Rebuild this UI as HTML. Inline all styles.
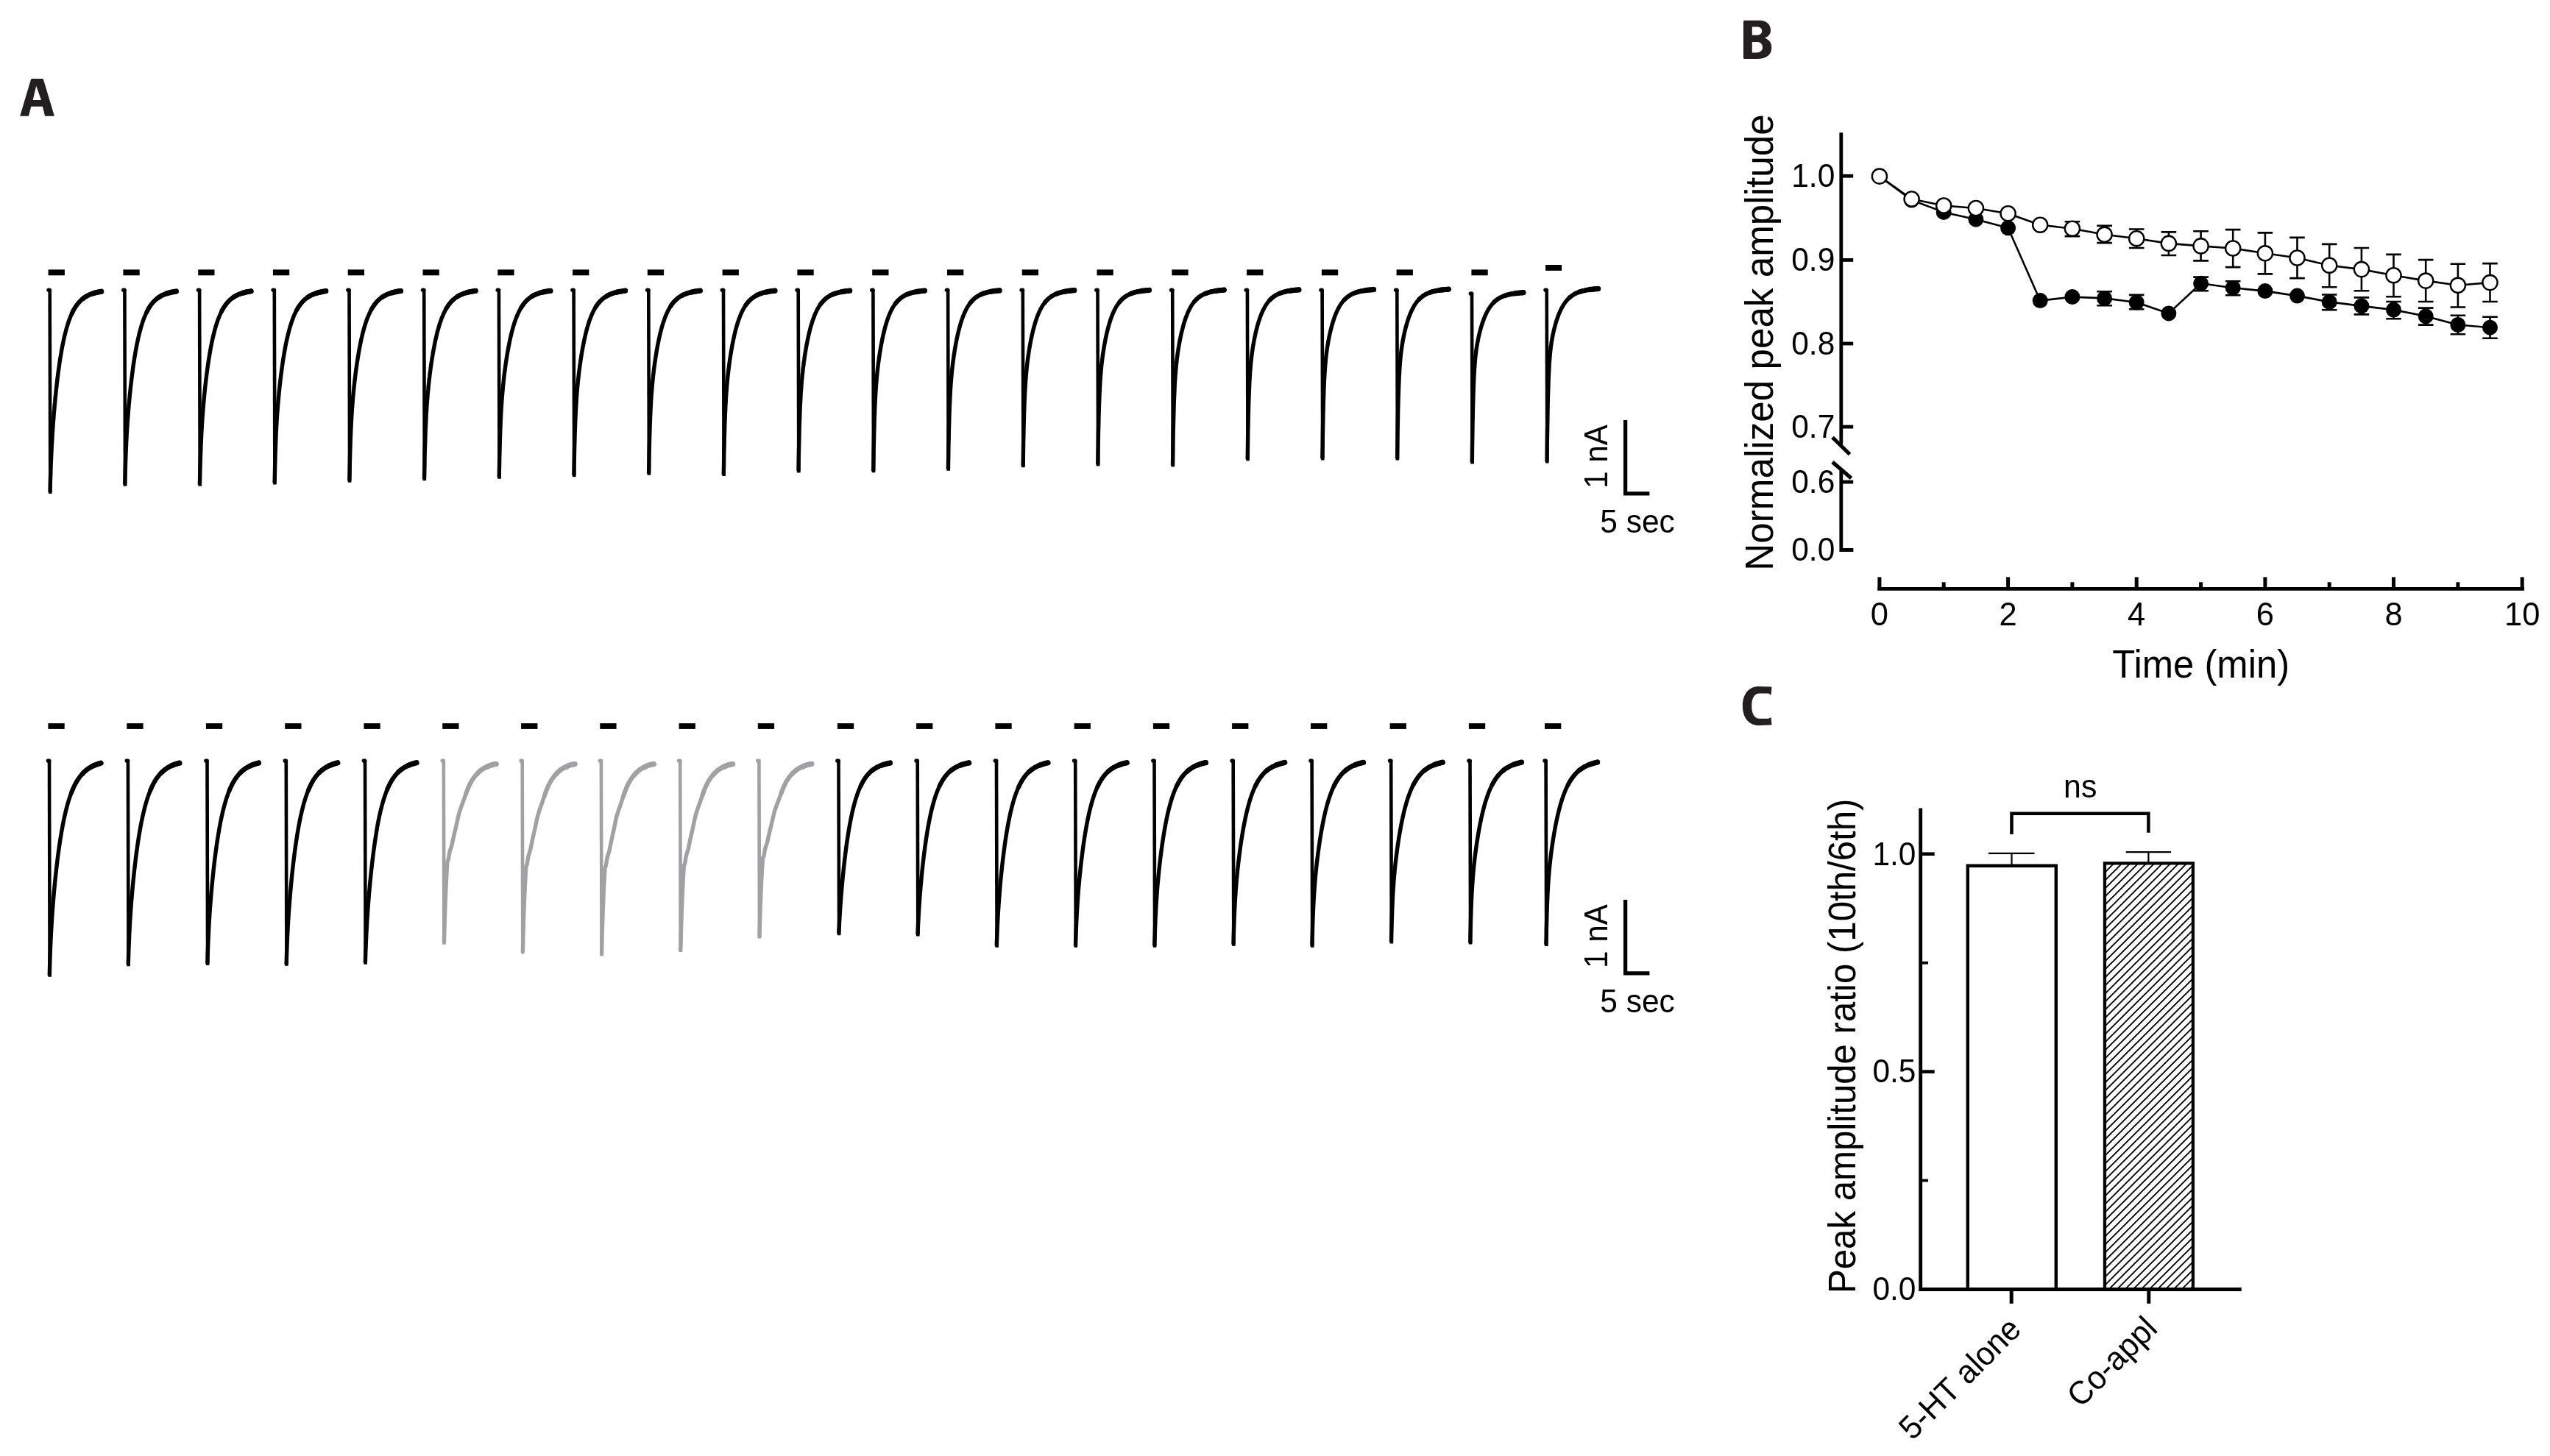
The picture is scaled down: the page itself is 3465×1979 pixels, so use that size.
<!DOCTYPE html>
<html><head><meta charset="utf-8"><style>html,body{margin:0;padding:0;background:#fff;overflow:hidden}svg{display:block;will-change:transform}</style></head>
<body><svg width="3465" height="1979" viewBox="0 0 3465 1979">
<rect width="3465" height="1979" fill="#fff"/>
<path fill="#231f20" fill-rule="evenodd" d="M27.2,157.7 L42.0,108 L43.1,106.9 L57.9,106.9 L59,108 L73.9,157.7 L61.1,157.7 L57.9,144.7 L42.3,144.7 L38.9,157.7 Z M49.2,116.7 L44.7,136 L56.0,136 Z"/>
<path fill="#231f20" fill-rule="evenodd" d="M2369,29 Q2369,27.8 2372,27.8 L2391,27.8 C2400,27.8 2406,33 2406,41.2 C2406,46 2403,50 2397.5,51.6 C2403.5,53.5 2407.3,58 2407.3,65 C2407.3,74.5 2400,80 2388,80 L2372,80 Q2369,80 2369,78.5 Z M2380.8,36.6 L2380.8,47.8 L2387,47.8 C2391.5,47.8 2394.2,45.5 2394.2,42 C2394.2,38.5 2391.5,36.6 2387,36.6 Z M2380.8,56.9 L2380.8,71.4 L2387,71.4 C2392,71.4 2395,68.8 2395,64.2 C2395,59.5 2392,56.9 2387,56.9 Z"/>
<path fill="#231f20" d="M2407.5,934 L2406.8,933.4 L2390,932.9 C2376,932.9 2367.9,943.5 2367.9,959.5 C2367.9,976 2377,986 2390,986 L2407.5,985.2 L2406.5,975 L2403,976.8 L2390.5,976.8 C2384,976.8 2380.2,970 2380.2,959.5 C2380.2,949 2384,942.6 2390.5,942.6 L2403,942.6 L2406.5,944.8 Z"/>
<path d="M67.7,393.7 L68.3,671.1" stroke="#000000" stroke-width="4.6" fill="none"/><ellipse cx="66.7" cy="394.3" rx="3.4" ry="2.8" fill="#000000"/><path d="M68,669.1 L68.2,659.6 L68.5,651 L68.8,643.2 L69,636 L69.2,629.4 L69.5,623.3 L69.8,617.6 L70,612.3 L70.2,607.4 L70.5,602.7 L70.8,598.2 L71,594 L71.2,589.9 L71.5,586 L71.8,582.3 L72.2,575.3 L72.8,568.7 L73.2,562.4 L73.8,556.5 L74.2,550.9 L74.8,545.5 L75.2,540.3 L75.8,535.3 L76.2,530.5 L76.8,525.9 L77.2,521.5 L77.8,517.2 L78.2,513 L78.8,509 L79.2,505.2 L79.8,501.5 L81.2,491 L82.8,481.6 L84.2,473.2 L85.8,465.5 L87.2,458.6 L88.8,452.4 L90.2,446.8 L91.8,441.7 L93.2,437.1 L94.8,433 L96.2,429.3 L97.8,425.9 L99.2,422.8 L100.8,420.1 L102.2,417.6 L103.8,415.4 L105.2,413.4 L106.8,411.5 L108.2,409.9 L109.8,408.4 L111.2,407 L112.8,405.8 L114.2,404.7 L115.8,403.7 L117.2,402.8 L118.8,402 L120.2,401.2 L121.8,400.5 L123.2,399.9 L124.8,399.4 L126.2,398.9 L127.8,398.4 L129.2,398 L130.8,397.6 L132.2,397.2 L133.8,396.9 L135.2,396.6 L136.8,396.4 L137.7,396.2" stroke="#000000" stroke-width="5.4" fill="none" stroke-linejoin="round" stroke-linecap="butt"/><path d="M97.8,425.9 L99.2,422.8 L100.8,420.1 L102.2,417.6 L103.8,415.4 L105.2,413.4 L106.8,411.5 L108.2,409.9 L109.8,408.4 L111.2,407 L112.8,405.8 L114.2,404.7 L115.8,403.7 L117.2,402.8 L118.8,402 L120.2,401.2 L121.8,400.5 L123.2,399.9 L124.8,399.4 L126.2,398.9 L127.8,398.4 L129.2,398 L130.8,397.6 L132.2,397.2 L133.8,396.9 L135.2,396.6 L136.8,396.4 L137.7,396.2" stroke="#000000" stroke-width="6.0" fill="none" stroke-linejoin="round" stroke-linecap="round"/><path d="M112.8,405.8 L114.2,404.7 L115.8,403.7 L117.2,402.8 L118.8,402 L120.2,401.2 L121.8,400.5 L123.2,399.9 L124.8,399.4 L126.2,398.9 L127.8,398.4 L129.2,398 L130.8,397.6 L132.2,397.2 L133.8,396.9 L135.2,396.6 L136.8,396.4 L137.7,396.2" stroke="#000000" stroke-width="6.6" fill="none" stroke-linejoin="round" stroke-linecap="round"/><path d="M126.2,398.9 L127.8,398.4 L129.2,398 L130.8,397.6 L132.2,397.2 L133.8,396.9 L135.2,396.6 L136.8,396.4 L137.7,396.2" stroke="#000000" stroke-width="7.2" fill="none" stroke-linejoin="round" stroke-linecap="round"/>
<rect x="65.6" y="366.4" width="22.3" height="7.9" fill="#000"/>
<path d="M169.4,393.7 L170,660.7" stroke="#000000" stroke-width="4.6" fill="none"/><ellipse cx="168.4" cy="394.3" rx="3.4" ry="2.8" fill="#000000"/><path d="M169.7,658.7 L170,648.6 L170.2,639.6 L170.5,631.4 L170.7,624 L171,617.2 L171.2,611 L171.5,605.3 L171.7,600 L172,595 L172.2,590.4 L172.5,586 L172.7,581.9 L173,577.9 L173.2,574.2 L173.5,570.6 L174,563.8 L174.5,557.5 L175,551.6 L175.5,546 L176,540.7 L176.5,535.7 L177,530.8 L177.5,526.2 L178,521.7 L178.5,517.4 L179,513.2 L179.5,509.2 L180,505.3 L180.5,501.6 L181,498 L181.5,494.5 L183,484.8 L184.5,476 L186,468.1 L187.5,461 L189,454.5 L190.5,448.7 L192,443.4 L193.5,438.7 L195,434.4 L196.5,430.5 L198,427 L199.5,423.9 L201,421 L202.4,418.5 L203.9,416.1 L205.4,414 L206.9,412.1 L208.4,410.4 L209.9,408.9 L211.4,407.5 L212.9,406.2 L214.4,405.1 L215.9,404 L217.4,403.1 L218.9,402.2 L220.4,401.4 L221.9,400.7 L223.4,400.1 L224.9,399.5 L226.4,399 L227.9,398.5 L229.4,398.1 L230.9,397.7 L232.4,397.3 L233.9,397 L235.4,396.7 L236.9,396.4 L238.4,396.2 L239.4,396" stroke="#000000" stroke-width="5.4" fill="none" stroke-linejoin="round" stroke-linecap="butt"/><path d="M199.5,423.9 L201,421 L202.4,418.5 L203.9,416.1 L205.4,414 L206.9,412.1 L208.4,410.4 L209.9,408.9 L211.4,407.5 L212.9,406.2 L214.4,405.1 L215.9,404 L217.4,403.1 L218.9,402.2 L220.4,401.4 L221.9,400.7 L223.4,400.1 L224.9,399.5 L226.4,399 L227.9,398.5 L229.4,398.1 L230.9,397.7 L232.4,397.3 L233.9,397 L235.4,396.7 L236.9,396.4 L238.4,396.2 L239.4,396" stroke="#000000" stroke-width="6.0" fill="none" stroke-linejoin="round" stroke-linecap="round"/><path d="M214.4,405.1 L215.9,404 L217.4,403.1 L218.9,402.2 L220.4,401.4 L221.9,400.7 L223.4,400.1 L224.9,399.5 L226.4,399 L227.9,398.5 L229.4,398.1 L230.9,397.7 L232.4,397.3 L233.9,397 L235.4,396.7 L236.9,396.4 L238.4,396.2 L239.4,396" stroke="#000000" stroke-width="6.6" fill="none" stroke-linejoin="round" stroke-linecap="round"/><path d="M227.9,398.5 L229.4,398.1 L230.9,397.7 L232.4,397.3 L233.9,397 L235.4,396.7 L236.9,396.4 L238.4,396.2 L239.4,396" stroke="#000000" stroke-width="7.2" fill="none" stroke-linejoin="round" stroke-linecap="round"/>
<rect x="167.4" y="366.4" width="22.3" height="7.9" fill="#000"/>
<path d="M271.1,393.7 L271.7,660.7" stroke="#000000" stroke-width="4.6" fill="none"/><ellipse cx="270.1" cy="394.3" rx="3.4" ry="2.8" fill="#000000"/><path d="M271.4,658.7 L271.7,647.7 L271.9,637.9 L272.2,629.1 L272.4,621.1 L272.7,614 L272.9,607.4 L273.2,601.4 L273.4,595.9 L273.7,590.7 L273.9,585.9 L274.2,581.5 L274.4,577.3 L274.7,573.3 L274.9,569.5 L275.2,565.9 L275.7,559.2 L276.2,553 L276.7,547.2 L277.2,541.7 L277.7,536.5 L278.2,531.5 L278.7,526.8 L279.2,522.3 L279.7,517.9 L280.2,513.7 L280.7,509.7 L281.2,505.8 L281.7,502.1 L282.2,498.5 L282.7,495 L283.2,491.6 L284.7,482.2 L286.2,473.6 L287.7,466 L289.2,459 L290.7,452.8 L292.2,447.1 L293.7,442 L295.2,437.4 L296.7,433.2 L298.2,429.5 L299.7,426.1 L301.2,423 L302.7,420.2 L304.2,417.7 L305.7,415.5 L307.2,413.4 L308.7,411.6 L310.2,409.9 L311.7,408.4 L313.2,407 L314.7,405.8 L316.2,404.7 L317.7,403.7 L319.2,402.7 L320.7,401.9 L322.2,401.1 L323.7,400.5 L325.2,399.8 L326.7,399.3 L328.2,398.8 L329.7,398.3 L331.2,397.9 L332.7,397.5 L334.2,397.1 L335.7,396.8 L337.2,396.5 L338.7,396.2 L340.2,396 L341.1,395.8" stroke="#000000" stroke-width="5.4" fill="none" stroke-linejoin="round" stroke-linecap="butt"/><path d="M301.2,423 L302.7,420.2 L304.2,417.7 L305.7,415.5 L307.2,413.4 L308.7,411.6 L310.2,409.9 L311.7,408.4 L313.2,407 L314.7,405.8 L316.2,404.7 L317.7,403.7 L319.2,402.7 L320.7,401.9 L322.2,401.1 L323.7,400.5 L325.2,399.8 L326.7,399.3 L328.2,398.8 L329.7,398.3 L331.2,397.9 L332.7,397.5 L334.2,397.1 L335.7,396.8 L337.2,396.5 L338.7,396.2 L340.2,396 L341.1,395.8" stroke="#000000" stroke-width="6.0" fill="none" stroke-linejoin="round" stroke-linecap="round"/><path d="M316.2,404.7 L317.7,403.7 L319.2,402.7 L320.7,401.9 L322.2,401.1 L323.7,400.5 L325.2,399.8 L326.7,399.3 L328.2,398.8 L329.7,398.3 L331.2,397.9 L332.7,397.5 L334.2,397.1 L335.7,396.8 L337.2,396.5 L338.7,396.2 L340.2,396 L341.1,395.8" stroke="#000000" stroke-width="6.6" fill="none" stroke-linejoin="round" stroke-linecap="round"/><path d="M329.7,398.3 L331.2,397.9 L332.7,397.5 L334.2,397.1 L335.7,396.8 L337.2,396.5 L338.7,396.2 L340.2,396 L341.1,395.8" stroke="#000000" stroke-width="7.2" fill="none" stroke-linejoin="round" stroke-linecap="round"/>
<rect x="269.2" y="366.4" width="22.3" height="7.9" fill="#000"/>
<path d="M372.8,393.7 L373.4,658.6" stroke="#000000" stroke-width="4.6" fill="none"/><ellipse cx="371.8" cy="394.3" rx="3.4" ry="2.8" fill="#000000"/><path d="M373.1,656.6 L373.4,644.8 L373.6,634.3 L373.9,624.9 L374.1,616.5 L374.4,608.9 L374.6,602.1 L374.9,595.9 L375.1,590.2 L375.4,584.9 L375.6,580 L375.9,575.5 L376.1,571.3 L376.4,567.3 L376.6,563.5 L376.9,559.9 L377.4,553.3 L377.9,547.2 L378.4,541.5 L378.9,536.2 L379.4,531.1 L379.9,526.3 L380.4,521.8 L380.9,517.4 L381.4,513.2 L381.9,509.2 L382.4,505.3 L382.9,501.6 L383.4,498 L383.9,494.5 L384.4,491.1 L384.9,487.9 L386.4,478.8 L387.9,470.6 L389.4,463.3 L390.9,456.6 L392.4,450.6 L393.9,445.1 L395.4,440.2 L396.9,435.8 L398.4,431.8 L399.9,428.1 L401.4,424.9 L402.9,421.9 L404.4,419.2 L405.9,416.8 L407.4,414.7 L408.9,412.7 L410.4,410.9 L411.9,409.3 L413.4,407.8 L414.9,406.5 L416.4,405.3 L417.9,404.2 L419.4,403.2 L420.9,402.3 L422.4,401.5 L423.9,400.8 L425.4,400.1 L426.9,399.5 L428.4,399 L429.9,398.5 L431.4,398 L432.9,397.6 L434.4,397.2 L435.9,396.9 L437.4,396.6 L438.9,396.3 L440.4,396 L441.9,395.8 L442.8,395.7" stroke="#000000" stroke-width="5.4" fill="none" stroke-linejoin="round" stroke-linecap="butt"/><path d="M402.9,421.9 L404.4,419.2 L405.9,416.8 L407.4,414.7 L408.9,412.7 L410.4,410.9 L411.9,409.3 L413.4,407.8 L414.9,406.5 L416.4,405.3 L417.9,404.2 L419.4,403.2 L420.9,402.3 L422.4,401.5 L423.9,400.8 L425.4,400.1 L426.9,399.5 L428.4,399 L429.9,398.5 L431.4,398 L432.9,397.6 L434.4,397.2 L435.9,396.9 L437.4,396.6 L438.9,396.3 L440.4,396 L441.9,395.8 L442.8,395.7" stroke="#000000" stroke-width="6.0" fill="none" stroke-linejoin="round" stroke-linecap="round"/><path d="M417.9,404.2 L419.4,403.2 L420.9,402.3 L422.4,401.5 L423.9,400.8 L425.4,400.1 L426.9,399.5 L428.4,399 L429.9,398.5 L431.4,398 L432.9,397.6 L434.4,397.2 L435.9,396.9 L437.4,396.6 L438.9,396.3 L440.4,396 L441.9,395.8 L442.8,395.7" stroke="#000000" stroke-width="6.6" fill="none" stroke-linejoin="round" stroke-linecap="round"/><path d="M431.4,398 L432.9,397.6 L434.4,397.2 L435.9,396.9 L437.4,396.6 L438.9,396.3 L440.4,396 L441.9,395.8 L442.8,395.7" stroke="#000000" stroke-width="7.2" fill="none" stroke-linejoin="round" stroke-linecap="round"/>
<rect x="370.9" y="366.4" width="22.3" height="7.9" fill="#000"/>
<path d="M474.5,393.7 L475.1,655.7" stroke="#000000" stroke-width="4.6" fill="none"/><ellipse cx="473.5" cy="394.3" rx="3.4" ry="2.8" fill="#000000"/><path d="M474.8,653.7 L475.1,641.1 L475.3,629.9 L475.6,620 L475.8,611.2 L476.1,603.3 L476.3,596.2 L476.6,589.8 L476.8,583.9 L477.1,578.6 L477.3,573.6 L477.6,569 L477.8,564.8 L478.1,560.8 L478.3,557 L478.6,553.5 L479.1,546.9 L479.6,541 L480.1,535.4 L480.6,530.3 L481.1,525.4 L481.6,520.8 L482.1,516.4 L482.6,512.2 L483.1,508.2 L483.6,504.3 L484.1,500.6 L484.6,497 L485.1,493.6 L485.6,490.3 L486.1,487.1 L486.6,484 L488.1,475.3 L489.6,467.4 L491.1,460.4 L492.6,454 L494.1,448.2 L495.6,443 L497.1,438.3 L498.6,434 L500.1,430.2 L501.6,426.7 L503.1,423.6 L504.6,420.7 L506.1,418.2 L507.6,415.9 L509.1,413.8 L510.6,411.9 L512,410.2 L513.5,408.6 L515,407.2 L516.5,405.9 L518,404.8 L519.5,403.7 L521,402.8 L522.5,401.9 L524,401.2 L525.5,400.4 L527,399.8 L528.5,399.2 L530,398.7 L531.5,398.2 L533,397.8 L534.5,397.4 L536,397 L537.5,396.7 L539,396.4 L540.5,396.1 L542,395.8 L543.5,395.6 L544.5,395.5" stroke="#000000" stroke-width="5.4" fill="none" stroke-linejoin="round" stroke-linecap="butt"/><path d="M504.6,420.7 L506.1,418.2 L507.6,415.9 L509.1,413.8 L510.6,411.9 L512,410.2 L513.5,408.6 L515,407.2 L516.5,405.9 L518,404.8 L519.5,403.7 L521,402.8 L522.5,401.9 L524,401.2 L525.5,400.4 L527,399.8 L528.5,399.2 L530,398.7 L531.5,398.2 L533,397.8 L534.5,397.4 L536,397 L537.5,396.7 L539,396.4 L540.5,396.1 L542,395.8 L543.5,395.6 L544.5,395.5" stroke="#000000" stroke-width="6.0" fill="none" stroke-linejoin="round" stroke-linecap="round"/><path d="M519.5,403.7 L521,402.8 L522.5,401.9 L524,401.2 L525.5,400.4 L527,399.8 L528.5,399.2 L530,398.7 L531.5,398.2 L533,397.8 L534.5,397.4 L536,397 L537.5,396.7 L539,396.4 L540.5,396.1 L542,395.8 L543.5,395.6 L544.5,395.5" stroke="#000000" stroke-width="6.6" fill="none" stroke-linejoin="round" stroke-linecap="round"/><path d="M533,397.8 L534.5,397.4 L536,397 L537.5,396.7 L539,396.4 L540.5,396.1 L542,395.8 L543.5,395.6 L544.5,395.5" stroke="#000000" stroke-width="7.2" fill="none" stroke-linejoin="round" stroke-linecap="round"/>
<rect x="472.7" y="366.4" width="22.3" height="7.9" fill="#000"/>
<path d="M576.2,393.7 L576.8,653.2" stroke="#000000" stroke-width="4.6" fill="none"/><ellipse cx="575.2" cy="394.3" rx="3.4" ry="2.8" fill="#000000"/><path d="M576.5,651.2 L576.8,637.8 L577,626 L577.2,615.6 L577.5,606.3 L577.8,598.1 L578,590.7 L578.2,584.1 L578.5,578.1 L578.8,572.6 L579,567.6 L579.2,562.9 L579.5,558.6 L579.8,554.6 L580,550.9 L580.2,547.4 L580.8,540.9 L581.2,535.1 L581.8,529.7 L582.2,524.7 L582.8,520 L583.2,515.5 L583.8,511.3 L584.2,507.3 L584.8,503.4 L585.2,499.7 L585.8,496.2 L586.2,492.7 L586.8,489.4 L587.2,486.2 L587.8,483.2 L588.2,480.2 L589.8,471.9 L591.2,464.4 L592.8,457.6 L594.2,451.5 L595.8,446 L597.2,441 L598.8,436.5 L600.2,432.4 L601.8,428.7 L603.2,425.4 L604.8,422.3 L606.2,419.6 L607.8,417.2 L609.2,414.9 L610.8,412.9 L612.2,411.1 L613.8,409.4 L615.2,407.9 L616.8,406.6 L618.2,405.4 L619.8,404.3 L621.2,403.3 L622.8,402.3 L624.2,401.5 L625.8,400.8 L627.2,400.1 L628.8,399.5 L630.2,398.9 L631.8,398.4 L633.2,397.9 L634.8,397.5 L636.2,397.1 L637.8,396.8 L639.2,396.5 L640.8,396.2 L642.2,395.9 L643.8,395.7 L645.2,395.4 L646.2,395.3" stroke="#000000" stroke-width="5.4" fill="none" stroke-linejoin="round" stroke-linecap="butt"/><path d="M606.2,419.6 L607.8,417.2 L609.2,414.9 L610.8,412.9 L612.2,411.1 L613.8,409.4 L615.2,407.9 L616.8,406.6 L618.2,405.4 L619.8,404.3 L621.2,403.3 L622.8,402.3 L624.2,401.5 L625.8,400.8 L627.2,400.1 L628.8,399.5 L630.2,398.9 L631.8,398.4 L633.2,397.9 L634.8,397.5 L636.2,397.1 L637.8,396.8 L639.2,396.5 L640.8,396.2 L642.2,395.9 L643.8,395.7 L645.2,395.4 L646.2,395.3" stroke="#000000" stroke-width="6.0" fill="none" stroke-linejoin="round" stroke-linecap="round"/><path d="M621.2,403.3 L622.8,402.3 L624.2,401.5 L625.8,400.8 L627.2,400.1 L628.8,399.5 L630.2,398.9 L631.8,398.4 L633.2,397.9 L634.8,397.5 L636.2,397.1 L637.8,396.8 L639.2,396.5 L640.8,396.2 L642.2,395.9 L643.8,395.7 L645.2,395.4 L646.2,395.3" stroke="#000000" stroke-width="6.6" fill="none" stroke-linejoin="round" stroke-linecap="round"/><path d="M634.8,397.5 L636.2,397.1 L637.8,396.8 L639.2,396.5 L640.8,396.2 L642.2,395.9 L643.8,395.7 L645.2,395.4 L646.2,395.3" stroke="#000000" stroke-width="7.2" fill="none" stroke-linejoin="round" stroke-linecap="round"/>
<rect x="574.5" y="366.4" width="22.3" height="7.9" fill="#000"/>
<path d="M677.9,393.7 L678.5,650.7" stroke="#000000" stroke-width="4.6" fill="none"/><ellipse cx="676.9" cy="394.3" rx="3.4" ry="2.8" fill="#000000"/><path d="M678.2,648.7 L678.5,634.9 L678.7,622.8 L679,612.1 L679.2,602.6 L679.5,594.2 L679.7,586.7 L680,579.9 L680.2,573.8 L680.5,568.2 L680.7,563.2 L681,558.5 L681.2,554.2 L681.5,550.2 L681.7,546.5 L682,542.9 L682.5,536.5 L683,530.7 L683.5,525.4 L684,520.4 L684.5,515.8 L685,511.4 L685.5,507.3 L686,503.4 L686.5,499.6 L687,496 L687.5,492.5 L688,489.2 L688.5,485.9 L689,482.8 L689.5,479.8 L690,477 L691.5,468.9 L693,461.6 L694.5,455 L696,449.1 L697.5,443.7 L699,438.9 L700.5,434.6 L702,430.6 L703.5,427.1 L705,423.9 L706.5,421 L708,418.4 L709.5,416 L711,413.9 L712.5,411.9 L714,410.2 L715.5,408.6 L717,407.2 L718.5,405.9 L720,404.8 L721.5,403.7 L723,402.7 L724.5,401.9 L726,401.1 L727.5,400.4 L729,399.8 L730.5,399.2 L732,398.6 L733.5,398.2 L735,397.7 L736.5,397.3 L738,397 L739.5,396.6 L741,396.3 L742.5,396.1 L744,395.8 L745.5,395.6 L747,395.4 L747.9,395.3" stroke="#000000" stroke-width="5.4" fill="none" stroke-linejoin="round" stroke-linecap="butt"/><path d="M708,418.4 L709.5,416 L711,413.9 L712.5,411.9 L714,410.2 L715.5,408.6 L717,407.2 L718.5,405.9 L720,404.8 L721.5,403.7 L723,402.7 L724.5,401.9 L726,401.1 L727.5,400.4 L729,399.8 L730.5,399.2 L732,398.6 L733.5,398.2 L735,397.7 L736.5,397.3 L738,397 L739.5,396.6 L741,396.3 L742.5,396.1 L744,395.8 L745.5,395.6 L747,395.4 L747.9,395.3" stroke="#000000" stroke-width="6.0" fill="none" stroke-linejoin="round" stroke-linecap="round"/><path d="M723,402.7 L724.5,401.9 L726,401.1 L727.5,400.4 L729,399.8 L730.5,399.2 L732,398.6 L733.5,398.2 L735,397.7 L736.5,397.3 L738,397 L739.5,396.6 L741,396.3 L742.5,396.1 L744,395.8 L745.5,395.6 L747,395.4 L747.9,395.3" stroke="#000000" stroke-width="6.6" fill="none" stroke-linejoin="round" stroke-linecap="round"/><path d="M736.5,397.3 L738,397 L739.5,396.6 L741,396.3 L742.5,396.1 L744,395.8 L745.5,395.6 L747,395.4 L747.9,395.3" stroke="#000000" stroke-width="7.2" fill="none" stroke-linejoin="round" stroke-linecap="round"/>
<rect x="676.3" y="366.4" width="22.3" height="7.9" fill="#000"/>
<path d="M779.6,393.7 L780.2,648.2" stroke="#000000" stroke-width="4.6" fill="none"/><ellipse cx="778.6" cy="394.3" rx="3.4" ry="2.8" fill="#000000"/><path d="M779.9,646.2 L780.1,632 L780.4,619.5 L780.6,608.6 L780.9,598.9 L781.1,590.3 L781.4,582.6 L781.6,575.8 L781.9,569.6 L782.1,563.9 L782.4,558.8 L782.6,554.1 L782.9,549.8 L783.1,545.8 L783.4,542.1 L783.6,538.6 L784.1,532.2 L784.6,526.4 L785.1,521.1 L785.6,516.3 L786.1,511.7 L786.6,507.4 L787.1,503.4 L787.6,499.5 L788.1,495.8 L788.6,492.3 L789.1,488.9 L789.6,485.7 L790.1,482.5 L790.6,479.5 L791.1,476.6 L791.6,473.8 L793.1,465.9 L794.6,458.9 L796.1,452.5 L797.6,446.7 L799.1,441.6 L800.6,436.9 L802.1,432.7 L803.6,428.9 L805.1,425.5 L806.6,422.4 L808.1,419.6 L809.6,417.1 L811.1,414.9 L812.6,412.8 L814.1,411 L815.6,409.3 L817.1,407.8 L818.6,406.5 L820.1,405.3 L821.6,404.2 L823.1,403.2 L824.6,402.3 L826.1,401.4 L827.6,400.7 L829.1,400 L830.6,399.4 L832.1,398.9 L833.6,398.4 L835.1,397.9 L836.6,397.5 L838.1,397.2 L839.6,396.8 L841.1,396.5 L842.6,396.2 L844.1,396 L845.6,395.8 L847.1,395.5 L848.6,395.3 L849.6,395.2" stroke="#000000" stroke-width="5.4" fill="none" stroke-linejoin="round" stroke-linecap="butt"/><path d="M809.6,417.1 L811.1,414.9 L812.6,412.8 L814.1,411 L815.6,409.3 L817.1,407.8 L818.6,406.5 L820.1,405.3 L821.6,404.2 L823.1,403.2 L824.6,402.3 L826.1,401.4 L827.6,400.7 L829.1,400 L830.6,399.4 L832.1,398.9 L833.6,398.4 L835.1,397.9 L836.6,397.5 L838.1,397.2 L839.6,396.8 L841.1,396.5 L842.6,396.2 L844.1,396 L845.6,395.8 L847.1,395.5 L848.6,395.3 L849.6,395.2" stroke="#000000" stroke-width="6.0" fill="none" stroke-linejoin="round" stroke-linecap="round"/><path d="M824.6,402.3 L826.1,401.4 L827.6,400.7 L829.1,400 L830.6,399.4 L832.1,398.9 L833.6,398.4 L835.1,397.9 L836.6,397.5 L838.1,397.2 L839.6,396.8 L841.1,396.5 L842.6,396.2 L844.1,396 L845.6,395.8 L847.1,395.5 L848.6,395.3 L849.6,395.2" stroke="#000000" stroke-width="6.6" fill="none" stroke-linejoin="round" stroke-linecap="round"/><path d="M838.1,397.2 L839.6,396.8 L841.1,396.5 L842.6,396.2 L844.1,396 L845.6,395.8 L847.1,395.5 L848.6,395.3 L849.6,395.2" stroke="#000000" stroke-width="7.2" fill="none" stroke-linejoin="round" stroke-linecap="round"/>
<rect x="778.1" y="366.4" width="22.3" height="7.9" fill="#000"/>
<path d="M881.3,393.7 L881.9,645.7" stroke="#000000" stroke-width="4.6" fill="none"/><ellipse cx="880.3" cy="394.3" rx="3.4" ry="2.8" fill="#000000"/><path d="M881.6,643.7 L881.9,629.1 L882.1,616.3 L882.4,605.1 L882.6,595.2 L882.9,586.5 L883.1,578.6 L883.4,571.7 L883.6,565.4 L883.9,559.7 L884.1,554.5 L884.4,549.8 L884.6,545.5 L884.9,541.5 L885.1,537.7 L885.4,534.2 L885.9,527.9 L886.4,522.2 L886.9,517 L887.4,512.2 L887.9,507.7 L888.4,503.5 L888.9,499.5 L889.4,495.8 L889.9,492.2 L890.4,488.7 L890.9,485.4 L891.4,482.2 L891.9,479.2 L892.4,476.2 L892.9,473.4 L893.4,470.7 L894.9,463 L896.4,456.2 L897.9,450 L899.4,444.5 L900.9,439.5 L902.4,435 L903.9,430.9 L905.4,427.3 L906.9,424 L908.4,421 L909.9,418.4 L911.4,416 L912.9,413.8 L914.4,411.8 L915.9,410.1 L917.4,408.5 L918.9,407.1 L920.4,405.8 L921.9,404.6 L923.4,403.6 L924.9,402.6 L926.4,401.8 L927.9,401 L929.4,400.3 L930.9,399.7 L932.4,399.1 L933.9,398.6 L935.4,398.1 L936.9,397.7 L938.4,397.3 L939.9,397 L941.4,396.7 L942.9,396.4 L944.4,396.1 L945.9,395.9 L947.4,395.7 L948.9,395.5 L950.4,395.3 L951.3,395.2" stroke="#000000" stroke-width="5.4" fill="none" stroke-linejoin="round" stroke-linecap="butt"/><path d="M911.4,416 L912.9,413.8 L914.4,411.8 L915.9,410.1 L917.4,408.5 L918.9,407.1 L920.4,405.8 L921.9,404.6 L923.4,403.6 L924.9,402.6 L926.4,401.8 L927.9,401 L929.4,400.3 L930.9,399.7 L932.4,399.1 L933.9,398.6 L935.4,398.1 L936.9,397.7 L938.4,397.3 L939.9,397 L941.4,396.7 L942.9,396.4 L944.4,396.1 L945.9,395.9 L947.4,395.7 L948.9,395.5 L950.4,395.3 L951.3,395.2" stroke="#000000" stroke-width="6.0" fill="none" stroke-linejoin="round" stroke-linecap="round"/><path d="M926.4,401.8 L927.9,401 L929.4,400.3 L930.9,399.7 L932.4,399.1 L933.9,398.6 L935.4,398.1 L936.9,397.7 L938.4,397.3 L939.9,397 L941.4,396.7 L942.9,396.4 L944.4,396.1 L945.9,395.9 L947.4,395.7 L948.9,395.5 L950.4,395.3 L951.3,395.2" stroke="#000000" stroke-width="6.6" fill="none" stroke-linejoin="round" stroke-linecap="round"/><path d="M939.9,397 L941.4,396.7 L942.9,396.4 L944.4,396.1 L945.9,395.9 L947.4,395.7 L948.9,395.5 L950.4,395.3 L951.3,395.2" stroke="#000000" stroke-width="7.2" fill="none" stroke-linejoin="round" stroke-linecap="round"/>
<rect x="879.8" y="366.4" width="22.3" height="7.9" fill="#000"/>
<path d="M983,393.7 L983.6,647" stroke="#000000" stroke-width="4.6" fill="none"/><ellipse cx="982" cy="394.3" rx="3.4" ry="2.8" fill="#000000"/><path d="M983.3,645 L983.6,629.8 L983.8,616.5 L984.1,604.9 L984.3,594.6 L984.6,585.5 L984.8,577.5 L985.1,570.3 L985.3,563.8 L985.6,558 L985.8,552.7 L986.1,547.9 L986.3,543.5 L986.6,539.4 L986.8,535.6 L987.1,532.1 L987.6,525.6 L988.1,519.9 L988.6,514.7 L989.1,509.9 L989.6,505.4 L990.1,501.3 L990.6,497.3 L991.1,493.6 L991.6,490 L992.1,486.6 L992.6,483.3 L993.1,480.2 L993.6,477.2 L994.1,474.2 L994.6,471.5 L995.1,468.8 L996.6,461.2 L998.1,454.5 L999.6,448.4 L1001.1,443 L1002.6,438.1 L1004.1,433.7 L1005.6,429.7 L1007.1,426.1 L1008.6,422.9 L1010.1,420 L1011.6,417.4 L1013.1,415.1 L1014.6,413 L1016.1,411.1 L1017.6,409.4 L1019.1,407.9 L1020.6,406.5 L1022.1,405.3 L1023.6,404.2 L1025.1,403.2 L1026.6,402.2 L1028.1,401.4 L1029.6,400.7 L1031.1,400 L1032.6,399.4 L1034.1,398.9 L1035.6,398.4 L1037.1,397.9 L1038.6,397.5 L1040.1,397.2 L1041.6,396.9 L1043.1,396.6 L1044.6,396.3 L1046.1,396 L1047.6,395.8 L1049.1,395.6 L1050.6,395.4 L1052.1,395.3 L1053,395.2" stroke="#000000" stroke-width="5.4" fill="none" stroke-linejoin="round" stroke-linecap="butt"/><path d="M1013.1,415.1 L1014.6,413 L1016.1,411.1 L1017.6,409.4 L1019.1,407.9 L1020.6,406.5 L1022.1,405.3 L1023.6,404.2 L1025.1,403.2 L1026.6,402.2 L1028.1,401.4 L1029.6,400.7 L1031.1,400 L1032.6,399.4 L1034.1,398.9 L1035.6,398.4 L1037.1,397.9 L1038.6,397.5 L1040.1,397.2 L1041.6,396.9 L1043.1,396.6 L1044.6,396.3 L1046.1,396 L1047.6,395.8 L1049.1,395.6 L1050.6,395.4 L1052.1,395.3 L1053,395.2" stroke="#000000" stroke-width="6.0" fill="none" stroke-linejoin="round" stroke-linecap="round"/><path d="M1028.1,401.4 L1029.6,400.7 L1031.1,400 L1032.6,399.4 L1034.1,398.9 L1035.6,398.4 L1037.1,397.9 L1038.6,397.5 L1040.1,397.2 L1041.6,396.9 L1043.1,396.6 L1044.6,396.3 L1046.1,396 L1047.6,395.8 L1049.1,395.6 L1050.6,395.4 L1052.1,395.3 L1053,395.2" stroke="#000000" stroke-width="6.6" fill="none" stroke-linejoin="round" stroke-linecap="round"/><path d="M1041.6,396.9 L1043.1,396.6 L1044.6,396.3 L1046.1,396 L1047.6,395.8 L1049.1,395.6 L1050.6,395.4 L1052.1,395.3 L1053,395.2" stroke="#000000" stroke-width="7.2" fill="none" stroke-linejoin="round" stroke-linecap="round"/>
<rect x="981.6" y="366.4" width="22.3" height="7.9" fill="#000"/>
<path d="M1084.7,393.7 L1085.3,642.4" stroke="#000000" stroke-width="4.6" fill="none"/><ellipse cx="1083.7" cy="394.3" rx="3.4" ry="2.8" fill="#000000"/><path d="M1085,640.4 L1085.2,625 L1085.5,611.5 L1085.8,599.7 L1086,589.3 L1086.2,580.2 L1086.5,572 L1086.8,564.8 L1087,558.3 L1087.2,552.5 L1087.5,547.2 L1087.8,542.4 L1088,538 L1088.2,533.9 L1088.5,530.2 L1088.8,526.7 L1089.2,520.4 L1089.8,514.7 L1090.2,509.6 L1090.8,505 L1091.2,500.6 L1091.8,496.6 L1092.2,492.7 L1092.8,489.1 L1093.2,485.6 L1093.8,482.3 L1094.2,479.2 L1094.8,476.2 L1095.2,473.2 L1095.8,470.4 L1096.2,467.7 L1096.8,465.1 L1098.2,457.9 L1099.8,451.4 L1101.2,445.6 L1102.8,440.4 L1104.2,435.7 L1105.8,431.5 L1107.2,427.7 L1108.8,424.3 L1110.2,421.2 L1111.8,418.5 L1113.2,416 L1114.8,413.8 L1116.2,411.8 L1117.8,410.1 L1119.2,408.5 L1120.8,407 L1122.2,405.7 L1123.8,404.5 L1125.2,403.5 L1126.8,402.6 L1128.2,401.7 L1129.8,400.9 L1131.2,400.2 L1132.8,399.6 L1134.2,399.1 L1135.8,398.6 L1137.2,398.1 L1138.8,397.7 L1140.2,397.3 L1141.8,397 L1143.2,396.7 L1144.8,396.4 L1146.2,396.2 L1147.8,395.9 L1149.2,395.7 L1150.8,395.5 L1152.2,395.4 L1153.8,395.2 L1154.7,395.1" stroke="#000000" stroke-width="5.4" fill="none" stroke-linejoin="round" stroke-linecap="butt"/><path d="M1114.8,413.8 L1116.2,411.8 L1117.8,410.1 L1119.2,408.5 L1120.8,407 L1122.2,405.7 L1123.8,404.5 L1125.2,403.5 L1126.8,402.6 L1128.2,401.7 L1129.8,400.9 L1131.2,400.2 L1132.8,399.6 L1134.2,399.1 L1135.8,398.6 L1137.2,398.1 L1138.8,397.7 L1140.2,397.3 L1141.8,397 L1143.2,396.7 L1144.8,396.4 L1146.2,396.2 L1147.8,395.9 L1149.2,395.7 L1150.8,395.5 L1152.2,395.4 L1153.8,395.2 L1154.7,395.1" stroke="#000000" stroke-width="6.0" fill="none" stroke-linejoin="round" stroke-linecap="round"/><path d="M1129.8,400.9 L1131.2,400.2 L1132.8,399.6 L1134.2,399.1 L1135.8,398.6 L1137.2,398.1 L1138.8,397.7 L1140.2,397.3 L1141.8,397 L1143.2,396.7 L1144.8,396.4 L1146.2,396.2 L1147.8,395.9 L1149.2,395.7 L1150.8,395.5 L1152.2,395.4 L1153.8,395.2 L1154.7,395.1" stroke="#000000" stroke-width="6.6" fill="none" stroke-linejoin="round" stroke-linecap="round"/><path d="M1143.2,396.7 L1144.8,396.4 L1146.2,396.2 L1147.8,395.9 L1149.2,395.7 L1150.8,395.5 L1152.2,395.4 L1153.8,395.2 L1154.7,395.1" stroke="#000000" stroke-width="7.2" fill="none" stroke-linejoin="round" stroke-linecap="round"/>
<rect x="1083.4" y="366.4" width="22.3" height="7.9" fill="#000"/>
<path d="M1186.4,393.7 L1187,642.3" stroke="#000000" stroke-width="4.6" fill="none"/><ellipse cx="1185.4" cy="394.3" rx="3.4" ry="2.8" fill="#000000"/><path d="M1186.7,640.3 L1187,624.3 L1187.2,610.4 L1187.5,598.3 L1187.7,587.6 L1188,578.2 L1188.2,569.9 L1188.5,562.5 L1188.7,555.9 L1189,549.9 L1189.2,544.5 L1189.5,539.7 L1189.7,535.2 L1190,531.1 L1190.2,527.3 L1190.5,523.8 L1191,517.5 L1191.5,511.8 L1192,506.7 L1192.5,502.1 L1193,497.8 L1193.5,493.8 L1194,490 L1194.5,486.4 L1195,483 L1195.5,479.8 L1196,476.7 L1196.5,473.7 L1197,470.8 L1197.5,468.1 L1198,465.4 L1198.5,462.9 L1200,455.8 L1201.5,449.5 L1203,443.8 L1204.5,438.7 L1206,434.1 L1207.5,430 L1209,426.3 L1210.5,423 L1212,420.1 L1213.5,417.4 L1215,415.1 L1216.5,412.9 L1218,411 L1219.5,409.3 L1221,407.8 L1222.5,406.4 L1224,405.1 L1225.5,404 L1227,403 L1228.5,402.1 L1230,401.3 L1231.5,400.6 L1233,399.9 L1234.5,399.3 L1236,398.8 L1237.5,398.3 L1239,397.9 L1240.5,397.5 L1242,397.2 L1243.5,396.8 L1245,396.6 L1246.5,396.3 L1248,396.1 L1249.5,395.9 L1251,395.7 L1252.5,395.5 L1254,395.3 L1255.5,395.2 L1256.4,395.1" stroke="#000000" stroke-width="5.4" fill="none" stroke-linejoin="round" stroke-linecap="butt"/><path d="M1216.5,412.9 L1218,411 L1219.5,409.3 L1221,407.8 L1222.5,406.4 L1224,405.1 L1225.5,404 L1227,403 L1228.5,402.1 L1230,401.3 L1231.5,400.6 L1233,399.9 L1234.5,399.3 L1236,398.8 L1237.5,398.3 L1239,397.9 L1240.5,397.5 L1242,397.2 L1243.5,396.8 L1245,396.6 L1246.5,396.3 L1248,396.1 L1249.5,395.9 L1251,395.7 L1252.5,395.5 L1254,395.3 L1255.5,395.2 L1256.4,395.1" stroke="#000000" stroke-width="6.0" fill="none" stroke-linejoin="round" stroke-linecap="round"/><path d="M1231.5,400.6 L1233,399.9 L1234.5,399.3 L1236,398.8 L1237.5,398.3 L1239,397.9 L1240.5,397.5 L1242,397.2 L1243.5,396.8 L1245,396.6 L1246.5,396.3 L1248,396.1 L1249.5,395.9 L1251,395.7 L1252.5,395.5 L1254,395.3 L1255.5,395.2 L1256.4,395.1" stroke="#000000" stroke-width="6.6" fill="none" stroke-linejoin="round" stroke-linecap="round"/><path d="M1245,396.6 L1246.5,396.3 L1248,396.1 L1249.5,395.9 L1251,395.7 L1252.5,395.5 L1254,395.3 L1255.5,395.2 L1256.4,395.1" stroke="#000000" stroke-width="7.2" fill="none" stroke-linejoin="round" stroke-linecap="round"/>
<rect x="1185.2" y="366.4" width="22.3" height="7.9" fill="#000"/>
<path d="M1288.1,393.7 L1288.7,639.8" stroke="#000000" stroke-width="4.6" fill="none"/><ellipse cx="1287.1" cy="394.3" rx="3.4" ry="2.8" fill="#000000"/><path d="M1288.4,637.8 L1288.7,621.4 L1288.9,607.2 L1289.2,594.8 L1289.4,583.9 L1289.7,574.3 L1289.9,565.9 L1290.2,558.4 L1290.4,551.7 L1290.7,545.7 L1290.9,540.3 L1291.2,535.4 L1291.4,530.9 L1291.7,526.8 L1291.9,523.1 L1292.2,519.6 L1292.7,513.3 L1293.2,507.8 L1293.7,502.8 L1294.2,498.2 L1294.7,494.1 L1295.2,490.1 L1295.7,486.5 L1296.2,483 L1296.7,479.7 L1297.2,476.6 L1297.7,473.5 L1298.2,470.7 L1298.7,467.9 L1299.2,465.2 L1299.7,462.7 L1300.2,460.2 L1301.7,453.4 L1303.2,447.3 L1304.7,441.8 L1306.2,436.9 L1307.7,432.5 L1309.2,428.5 L1310.7,425 L1312.2,421.8 L1313.7,418.9 L1315.2,416.4 L1316.7,414.1 L1318.2,412 L1319.7,410.2 L1321.2,408.5 L1322.7,407 L1324.2,405.7 L1325.7,404.5 L1327.2,403.4 L1328.7,402.5 L1330.2,401.6 L1331.7,400.8 L1333.2,400.1 L1334.7,399.5 L1336.2,398.9 L1337.7,398.4 L1339.2,398 L1340.7,397.5 L1342.2,397.2 L1343.7,396.8 L1345.2,396.5 L1346.7,396.3 L1348.2,396 L1349.7,395.8 L1351.2,395.6 L1352.7,395.4 L1354.2,395.2 L1355.7,395.1 L1357.2,394.9 L1358.1,394.9" stroke="#000000" stroke-width="5.4" fill="none" stroke-linejoin="round" stroke-linecap="butt"/><path d="M1318.2,412 L1319.7,410.2 L1321.2,408.5 L1322.7,407 L1324.2,405.7 L1325.7,404.5 L1327.2,403.4 L1328.7,402.5 L1330.2,401.6 L1331.7,400.8 L1333.2,400.1 L1334.7,399.5 L1336.2,398.9 L1337.7,398.4 L1339.2,398 L1340.7,397.5 L1342.2,397.2 L1343.7,396.8 L1345.2,396.5 L1346.7,396.3 L1348.2,396 L1349.7,395.8 L1351.2,395.6 L1352.7,395.4 L1354.2,395.2 L1355.7,395.1 L1357.2,394.9 L1358.1,394.9" stroke="#000000" stroke-width="6.0" fill="none" stroke-linejoin="round" stroke-linecap="round"/><path d="M1333.2,400.1 L1334.7,399.5 L1336.2,398.9 L1337.7,398.4 L1339.2,398 L1340.7,397.5 L1342.2,397.2 L1343.7,396.8 L1345.2,396.5 L1346.7,396.3 L1348.2,396 L1349.7,395.8 L1351.2,395.6 L1352.7,395.4 L1354.2,395.2 L1355.7,395.1 L1357.2,394.9 L1358.1,394.9" stroke="#000000" stroke-width="6.6" fill="none" stroke-linejoin="round" stroke-linecap="round"/><path d="M1346.7,396.3 L1348.2,396 L1349.7,395.8 L1351.2,395.6 L1352.7,395.4 L1354.2,395.2 L1355.7,395.1 L1357.2,394.9 L1358.1,394.9" stroke="#000000" stroke-width="7.2" fill="none" stroke-linejoin="round" stroke-linecap="round"/>
<rect x="1287" y="366.4" width="22.3" height="7.9" fill="#000"/>
<path d="M1389.8,393.7 L1390.4,635.3" stroke="#000000" stroke-width="4.6" fill="none"/><ellipse cx="1388.8" cy="394.3" rx="3.4" ry="2.8" fill="#000000"/><path d="M1390.1,633.3 L1390.4,616.7 L1390.6,602.3 L1390.9,589.7 L1391.1,578.7 L1391.4,569 L1391.6,560.5 L1391.9,553 L1392.1,546.3 L1392.4,540.3 L1392.6,534.9 L1392.9,530.1 L1393.1,525.6 L1393.4,521.6 L1393.6,517.9 L1393.9,514.4 L1394.4,508.3 L1394.9,502.9 L1395.4,498 L1395.9,493.6 L1396.4,489.6 L1396.9,485.8 L1397.4,482.3 L1397.9,478.9 L1398.4,475.8 L1398.9,472.7 L1399.4,469.8 L1399.9,467.1 L1400.4,464.4 L1400.9,461.9 L1401.4,459.4 L1401.9,457.1 L1403.4,450.5 L1404.9,444.7 L1406.4,439.4 L1407.9,434.7 L1409.4,430.5 L1410.9,426.7 L1412.4,423.4 L1413.9,420.3 L1415.4,417.6 L1416.9,415.1 L1418.4,413 L1419.9,411 L1421.4,409.2 L1422.9,407.7 L1424.4,406.2 L1425.9,405 L1427.4,403.8 L1428.9,402.8 L1430.4,401.9 L1431.9,401 L1433.4,400.3 L1434.9,399.6 L1436.4,399 L1437.9,398.5 L1439.4,398 L1440.9,397.6 L1442.4,397.2 L1443.9,396.8 L1445.4,396.5 L1446.9,396.2 L1448.4,395.9 L1449.9,395.7 L1451.4,395.5 L1452.9,395.3 L1454.4,395.1 L1455.9,395 L1457.4,394.8 L1458.9,394.7 L1459.8,394.6" stroke="#000000" stroke-width="5.4" fill="none" stroke-linejoin="round" stroke-linecap="butt"/><path d="M1419.9,411 L1421.4,409.2 L1422.9,407.7 L1424.4,406.2 L1425.9,405 L1427.4,403.8 L1428.9,402.8 L1430.4,401.9 L1431.9,401 L1433.4,400.3 L1434.9,399.6 L1436.4,399 L1437.9,398.5 L1439.4,398 L1440.9,397.6 L1442.4,397.2 L1443.9,396.8 L1445.4,396.5 L1446.9,396.2 L1448.4,395.9 L1449.9,395.7 L1451.4,395.5 L1452.9,395.3 L1454.4,395.1 L1455.9,395 L1457.4,394.8 L1458.9,394.7 L1459.8,394.6" stroke="#000000" stroke-width="6.0" fill="none" stroke-linejoin="round" stroke-linecap="round"/><path d="M1434.9,399.6 L1436.4,399 L1437.9,398.5 L1439.4,398 L1440.9,397.6 L1442.4,397.2 L1443.9,396.8 L1445.4,396.5 L1446.9,396.2 L1448.4,395.9 L1449.9,395.7 L1451.4,395.5 L1452.9,395.3 L1454.4,395.1 L1455.9,395 L1457.4,394.8 L1458.9,394.7 L1459.8,394.6" stroke="#000000" stroke-width="6.6" fill="none" stroke-linejoin="round" stroke-linecap="round"/><path d="M1448.4,395.9 L1449.9,395.7 L1451.4,395.5 L1452.9,395.3 L1454.4,395.1 L1455.9,395 L1457.4,394.8 L1458.9,394.7 L1459.8,394.6" stroke="#000000" stroke-width="7.2" fill="none" stroke-linejoin="round" stroke-linecap="round"/>
<rect x="1388.7" y="366.4" width="22.3" height="7.9" fill="#000"/>
<path d="M1491.5,393.7 L1492.1,633.6" stroke="#000000" stroke-width="4.6" fill="none"/><ellipse cx="1490.5" cy="394.3" rx="3.4" ry="2.8" fill="#000000"/><path d="M1491.8,631.6 L1492,614.5 L1492.3,599.8 L1492.5,586.9 L1492.8,575.7 L1493,565.8 L1493.3,557.2 L1493.5,549.5 L1493.8,542.7 L1494,536.7 L1494.3,531.3 L1494.5,526.4 L1494.8,521.9 L1495,517.9 L1495.3,514.2 L1495.5,510.8 L1496,504.6 L1496.5,499.3 L1497,494.5 L1497.5,490.2 L1498,486.3 L1498.5,482.6 L1499,479.1 L1499.5,475.9 L1500,472.8 L1500.5,469.9 L1501,467.1 L1501.5,464.4 L1502,461.8 L1502.5,459.4 L1503,457 L1503.5,454.7 L1505,448.4 L1506.5,442.7 L1508,437.7 L1509.5,433.1 L1511,429 L1512.5,425.4 L1514,422.1 L1515.5,419.2 L1517,416.5 L1518.5,414.2 L1520,412.1 L1521.5,410.2 L1523,408.5 L1524.5,406.9 L1526,405.6 L1527.5,404.3 L1529,403.2 L1530.5,402.3 L1532,401.4 L1533.5,400.6 L1535,399.8 L1536.5,399.2 L1538,398.6 L1539.5,398.1 L1541,397.6 L1542.5,397.2 L1544,396.8 L1545.5,396.5 L1547,396.2 L1548.5,395.9 L1550,395.7 L1551.5,395.4 L1553,395.2 L1554.5,395 L1556,394.9 L1557.5,394.7 L1559,394.6 L1560.5,394.5 L1561.5,394.4" stroke="#000000" stroke-width="5.4" fill="none" stroke-linejoin="round" stroke-linecap="butt"/><path d="M1521.5,410.2 L1523,408.5 L1524.5,406.9 L1526,405.6 L1527.5,404.3 L1529,403.2 L1530.5,402.3 L1532,401.4 L1533.5,400.6 L1535,399.8 L1536.5,399.2 L1538,398.6 L1539.5,398.1 L1541,397.6 L1542.5,397.2 L1544,396.8 L1545.5,396.5 L1547,396.2 L1548.5,395.9 L1550,395.7 L1551.5,395.4 L1553,395.2 L1554.5,395 L1556,394.9 L1557.5,394.7 L1559,394.6 L1560.5,394.5 L1561.5,394.4" stroke="#000000" stroke-width="6.0" fill="none" stroke-linejoin="round" stroke-linecap="round"/><path d="M1536.5,399.2 L1538,398.6 L1539.5,398.1 L1541,397.6 L1542.5,397.2 L1544,396.8 L1545.5,396.5 L1547,396.2 L1548.5,395.9 L1550,395.7 L1551.5,395.4 L1553,395.2 L1554.5,395 L1556,394.9 L1557.5,394.7 L1559,394.6 L1560.5,394.5 L1561.5,394.4" stroke="#000000" stroke-width="6.6" fill="none" stroke-linejoin="round" stroke-linecap="round"/><path d="M1550,395.7 L1551.5,395.4 L1553,395.2 L1554.5,395 L1556,394.9 L1557.5,394.7 L1559,394.6 L1560.5,394.5 L1561.5,394.4" stroke="#000000" stroke-width="7.2" fill="none" stroke-linejoin="round" stroke-linecap="round"/>
<rect x="1490.5" y="366.4" width="22.3" height="7.9" fill="#000"/>
<path d="M1593.2,393.7 L1593.8,634.5" stroke="#000000" stroke-width="4.6" fill="none"/><ellipse cx="1592.2" cy="394.3" rx="3.4" ry="2.8" fill="#000000"/><path d="M1593.5,632.5 L1593.8,614.8 L1594,599.5 L1594.2,586.2 L1594.5,574.6 L1594.8,564.5 L1595,555.6 L1595.2,547.8 L1595.5,540.8 L1595.8,534.6 L1596,529.1 L1596.2,524.1 L1596.5,519.6 L1596.8,515.5 L1597,511.8 L1597.2,508.4 L1597.8,502.2 L1598.2,496.9 L1598.8,492.2 L1599.2,487.9 L1599.8,484 L1600.2,480.3 L1600.8,476.9 L1601.2,473.8 L1601.8,470.7 L1602.2,467.9 L1602.8,465.1 L1603.2,462.5 L1603.8,460 L1604.2,457.6 L1604.8,455.3 L1605.2,453 L1606.8,446.8 L1608.2,441.3 L1609.8,436.4 L1611.2,431.9 L1612.8,427.9 L1614.2,424.4 L1615.8,421.2 L1617.2,418.3 L1618.8,415.7 L1620.2,413.4 L1621.8,411.4 L1623.2,409.5 L1624.8,407.9 L1626.2,406.4 L1627.8,405 L1629.2,403.8 L1630.8,402.8 L1632.2,401.8 L1633.8,400.9 L1635.2,400.2 L1636.8,399.5 L1638.2,398.8 L1639.8,398.3 L1641.2,397.8 L1642.8,397.3 L1644.2,396.9 L1645.8,396.5 L1647.2,396.2 L1648.8,395.9 L1650.2,395.6 L1651.8,395.4 L1653.2,395.2 L1654.8,395 L1656.2,394.8 L1657.8,394.6 L1659.2,394.5 L1660.8,394.3 L1662.2,394.2 L1663.2,394.1" stroke="#000000" stroke-width="5.4" fill="none" stroke-linejoin="round" stroke-linecap="butt"/><path d="M1623.2,409.5 L1624.8,407.9 L1626.2,406.4 L1627.8,405 L1629.2,403.8 L1630.8,402.8 L1632.2,401.8 L1633.8,400.9 L1635.2,400.2 L1636.8,399.5 L1638.2,398.8 L1639.8,398.3 L1641.2,397.8 L1642.8,397.3 L1644.2,396.9 L1645.8,396.5 L1647.2,396.2 L1648.8,395.9 L1650.2,395.6 L1651.8,395.4 L1653.2,395.2 L1654.8,395 L1656.2,394.8 L1657.8,394.6 L1659.2,394.5 L1660.8,394.3 L1662.2,394.2 L1663.2,394.1" stroke="#000000" stroke-width="6.0" fill="none" stroke-linejoin="round" stroke-linecap="round"/><path d="M1638.2,398.8 L1639.8,398.3 L1641.2,397.8 L1642.8,397.3 L1644.2,396.9 L1645.8,396.5 L1647.2,396.2 L1648.8,395.9 L1650.2,395.6 L1651.8,395.4 L1653.2,395.2 L1654.8,395 L1656.2,394.8 L1657.8,394.6 L1659.2,394.5 L1660.8,394.3 L1662.2,394.2 L1663.2,394.1" stroke="#000000" stroke-width="6.6" fill="none" stroke-linejoin="round" stroke-linecap="round"/><path d="M1651.8,395.4 L1653.2,395.2 L1654.8,395 L1656.2,394.8 L1657.8,394.6 L1659.2,394.5 L1660.8,394.3 L1662.2,394.2 L1663.2,394.1" stroke="#000000" stroke-width="7.2" fill="none" stroke-linejoin="round" stroke-linecap="round"/>
<rect x="1592.3" y="366.4" width="22.3" height="7.9" fill="#000"/>
<path d="M1694.9,393.7 L1695.5,626.2" stroke="#000000" stroke-width="4.6" fill="none"/><ellipse cx="1693.9" cy="394.3" rx="3.4" ry="2.8" fill="#000000"/><path d="M1695.2,624.2 L1695.5,606.6 L1695.7,591.4 L1696,578.2 L1696.2,566.7 L1696.5,556.7 L1696.7,547.9 L1697,540.1 L1697.2,533.3 L1697.5,527.2 L1697.7,521.8 L1698,516.9 L1698.2,512.6 L1698.5,508.6 L1698.7,504.9 L1699,501.6 L1699.5,495.7 L1700,490.6 L1700.5,486.1 L1701,482 L1701.5,478.3 L1702,474.8 L1702.5,471.6 L1703,468.6 L1703.5,465.8 L1704,463.1 L1704.5,460.5 L1705,458 L1705.5,455.7 L1706,453.4 L1706.5,451.2 L1707,449.1 L1708.5,443.3 L1710,438.1 L1711.5,433.5 L1713,429.3 L1714.5,425.6 L1716,422.2 L1717.5,419.2 L1719,416.5 L1720.5,414.1 L1722,412 L1723.5,410 L1725,408.3 L1726.5,406.7 L1728,405.3 L1729.5,404.1 L1731,403 L1732.5,402 L1734,401.1 L1735.5,400.3 L1737,399.5 L1738.5,398.9 L1740,398.3 L1741.5,397.8 L1743,397.3 L1744.5,396.9 L1746,396.5 L1747.5,396.1 L1749,395.8 L1750.5,395.5 L1752,395.3 L1753.5,395.1 L1755,394.9 L1756.5,394.7 L1758,394.5 L1759.5,394.3 L1761,394.2 L1762.5,394.1 L1764,394 L1764.9,393.9" stroke="#000000" stroke-width="5.4" fill="none" stroke-linejoin="round" stroke-linecap="butt"/><path d="M1725,408.3 L1726.5,406.7 L1728,405.3 L1729.5,404.1 L1731,403 L1732.5,402 L1734,401.1 L1735.5,400.3 L1737,399.5 L1738.5,398.9 L1740,398.3 L1741.5,397.8 L1743,397.3 L1744.5,396.9 L1746,396.5 L1747.5,396.1 L1749,395.8 L1750.5,395.5 L1752,395.3 L1753.5,395.1 L1755,394.9 L1756.5,394.7 L1758,394.5 L1759.5,394.3 L1761,394.2 L1762.5,394.1 L1764,394 L1764.9,393.9" stroke="#000000" stroke-width="6.0" fill="none" stroke-linejoin="round" stroke-linecap="round"/><path d="M1740,398.3 L1741.5,397.8 L1743,397.3 L1744.5,396.9 L1746,396.5 L1747.5,396.1 L1749,395.8 L1750.5,395.5 L1752,395.3 L1753.5,395.1 L1755,394.9 L1756.5,394.7 L1758,394.5 L1759.5,394.3 L1761,394.2 L1762.5,394.1 L1764,394 L1764.9,393.9" stroke="#000000" stroke-width="6.6" fill="none" stroke-linejoin="round" stroke-linecap="round"/><path d="M1753.5,395.1 L1755,394.9 L1756.5,394.7 L1758,394.5 L1759.5,394.3 L1761,394.2 L1762.5,394.1 L1764,394 L1764.9,393.9" stroke="#000000" stroke-width="7.2" fill="none" stroke-linejoin="round" stroke-linecap="round"/>
<rect x="1694.1" y="366.4" width="22.3" height="7.9" fill="#000"/>
<path d="M1796.6,393.7 L1797.2,625.4" stroke="#000000" stroke-width="4.6" fill="none"/><ellipse cx="1795.6" cy="394.3" rx="3.4" ry="2.8" fill="#000000"/><path d="M1796.9,623.4 L1797.2,605.1 L1797.4,589.3 L1797.7,575.6 L1797.9,563.7 L1798.2,553.3 L1798.4,544.3 L1798.7,536.3 L1798.9,529.3 L1799.2,523.2 L1799.4,517.6 L1799.7,512.7 L1799.9,508.3 L1800.2,504.3 L1800.4,500.7 L1800.7,497.4 L1801.2,491.5 L1801.7,486.5 L1802.2,482 L1802.7,478.1 L1803.2,474.5 L1803.7,471.2 L1804.2,468.1 L1804.7,465.2 L1805.2,462.5 L1805.7,459.9 L1806.2,457.4 L1806.7,455.1 L1807.2,452.8 L1807.7,450.7 L1808.2,448.6 L1808.7,446.6 L1810.2,441 L1811.7,436.1 L1813.2,431.6 L1814.7,427.6 L1816.2,424.1 L1817.7,420.9 L1819.2,418 L1820.7,415.4 L1822.2,413.1 L1823.7,411 L1825.2,409.2 L1826.7,407.5 L1828.2,406 L1829.7,404.7 L1831.2,403.5 L1832.7,402.4 L1834.2,401.4 L1835.7,400.5 L1837.2,399.7 L1838.7,399 L1840.2,398.4 L1841.7,397.8 L1843.2,397.3 L1844.7,396.9 L1846.2,396.4 L1847.7,396.1 L1849.2,395.7 L1850.7,395.4 L1852.2,395.2 L1853.7,394.9 L1855.2,394.7 L1856.7,394.5 L1858.2,394.3 L1859.7,394.1 L1861.2,394 L1862.7,393.9 L1864.2,393.7 L1865.7,393.6 L1866.6,393.6" stroke="#000000" stroke-width="5.4" fill="none" stroke-linejoin="round" stroke-linecap="butt"/><path d="M1826.7,407.5 L1828.2,406 L1829.7,404.7 L1831.2,403.5 L1832.7,402.4 L1834.2,401.4 L1835.7,400.5 L1837.2,399.7 L1838.7,399 L1840.2,398.4 L1841.7,397.8 L1843.2,397.3 L1844.7,396.9 L1846.2,396.4 L1847.7,396.1 L1849.2,395.7 L1850.7,395.4 L1852.2,395.2 L1853.7,394.9 L1855.2,394.7 L1856.7,394.5 L1858.2,394.3 L1859.7,394.1 L1861.2,394 L1862.7,393.9 L1864.2,393.7 L1865.7,393.6 L1866.6,393.6" stroke="#000000" stroke-width="6.0" fill="none" stroke-linejoin="round" stroke-linecap="round"/><path d="M1841.7,397.8 L1843.2,397.3 L1844.7,396.9 L1846.2,396.4 L1847.7,396.1 L1849.2,395.7 L1850.7,395.4 L1852.2,395.2 L1853.7,394.9 L1855.2,394.7 L1856.7,394.5 L1858.2,394.3 L1859.7,394.1 L1861.2,394 L1862.7,393.9 L1864.2,393.7 L1865.7,393.6 L1866.6,393.6" stroke="#000000" stroke-width="6.6" fill="none" stroke-linejoin="round" stroke-linecap="round"/><path d="M1855.2,394.7 L1856.7,394.5 L1858.2,394.3 L1859.7,394.1 L1861.2,394 L1862.7,393.9 L1864.2,393.7 L1865.7,393.6 L1866.6,393.6" stroke="#000000" stroke-width="7.2" fill="none" stroke-linejoin="round" stroke-linecap="round"/>
<rect x="1795.9" y="366.4" width="22.3" height="7.9" fill="#000"/>
<path d="M1898.3,393.7 L1898.9,625.4" stroke="#000000" stroke-width="4.6" fill="none"/><ellipse cx="1897.3" cy="394.3" rx="3.4" ry="2.8" fill="#000000"/><path d="M1898.6,623.4 L1898.9,604.3 L1899.1,587.8 L1899.4,573.6 L1899.6,561.3 L1899.9,550.5 L1900.1,541.2 L1900.4,533 L1900.6,525.9 L1900.9,519.5 L1901.1,513.9 L1901.4,508.9 L1901.6,504.4 L1901.9,500.4 L1902.1,496.8 L1902.4,493.4 L1902.9,487.6 L1903.4,482.6 L1903.9,478.3 L1904.4,474.4 L1904.9,471 L1905.4,467.8 L1905.9,464.8 L1906.4,462 L1906.9,459.4 L1907.4,456.9 L1907.9,454.6 L1908.4,452.3 L1908.9,450.2 L1909.4,448.1 L1909.9,446.1 L1910.4,444.2 L1911.9,438.9 L1913.4,434.2 L1914.9,429.9 L1916.4,426.1 L1917.9,422.7 L1919.4,419.6 L1920.9,416.8 L1922.4,414.4 L1923.9,412.1 L1925.4,410.1 L1926.9,408.3 L1928.4,406.7 L1929.9,405.3 L1931.4,404 L1932.9,402.8 L1934.4,401.8 L1935.9,400.8 L1937.4,400 L1938.9,399.2 L1940.4,398.6 L1941.9,397.9 L1943.4,397.4 L1944.9,396.9 L1946.4,396.4 L1947.9,396 L1949.4,395.7 L1950.9,395.3 L1952.4,395 L1953.9,394.8 L1955.4,394.5 L1956.9,394.3 L1958.4,394.1 L1959.9,393.9 L1961.4,393.8 L1962.9,393.6 L1964.4,393.5 L1965.9,393.4 L1967.4,393.3 L1968.3,393.2" stroke="#000000" stroke-width="5.4" fill="none" stroke-linejoin="round" stroke-linecap="butt"/><path d="M1928.4,406.7 L1929.9,405.3 L1931.4,404 L1932.9,402.8 L1934.4,401.8 L1935.9,400.8 L1937.4,400 L1938.9,399.2 L1940.4,398.6 L1941.9,397.9 L1943.4,397.4 L1944.9,396.9 L1946.4,396.4 L1947.9,396 L1949.4,395.7 L1950.9,395.3 L1952.4,395 L1953.9,394.8 L1955.4,394.5 L1956.9,394.3 L1958.4,394.1 L1959.9,393.9 L1961.4,393.8 L1962.9,393.6 L1964.4,393.5 L1965.9,393.4 L1967.4,393.3 L1968.3,393.2" stroke="#000000" stroke-width="6.0" fill="none" stroke-linejoin="round" stroke-linecap="round"/><path d="M1943.4,397.4 L1944.9,396.9 L1946.4,396.4 L1947.9,396 L1949.4,395.7 L1950.9,395.3 L1952.4,395 L1953.9,394.8 L1955.4,394.5 L1956.9,394.3 L1958.4,394.1 L1959.9,393.9 L1961.4,393.8 L1962.9,393.6 L1964.4,393.5 L1965.9,393.4 L1967.4,393.3 L1968.3,393.2" stroke="#000000" stroke-width="6.6" fill="none" stroke-linejoin="round" stroke-linecap="round"/><path d="M1956.9,394.3 L1958.4,394.1 L1959.9,393.9 L1961.4,393.8 L1962.9,393.6 L1964.4,393.5 L1965.9,393.4 L1967.4,393.3 L1968.3,393.2" stroke="#000000" stroke-width="7.2" fill="none" stroke-linejoin="round" stroke-linecap="round"/>
<rect x="1897.6" y="366.4" width="22.3" height="7.9" fill="#000"/>
<path d="M2000,398.5 L2000.6,630.4" stroke="#000000" stroke-width="4.6" fill="none"/><ellipse cx="1999" cy="399.1" rx="3.4" ry="2.8" fill="#000000"/><path d="M2000.3,628.4 L2000.5,608.5 L2000.8,591.3 L2001,576.6 L2001.3,563.8 L2001.5,552.7 L2001.8,543.1 L2002,534.6 L2002.3,527.3 L2002.5,520.8 L2002.8,515.1 L2003,510 L2003.3,505.5 L2003.5,501.4 L2003.8,497.7 L2004,494.4 L2004.5,488.6 L2005,483.7 L2005.5,479.4 L2006,475.7 L2006.5,472.3 L2007,469.2 L2007.5,466.3 L2008,463.7 L2008.5,461.2 L2009,458.8 L2009.5,456.5 L2010,454.4 L2010.5,452.3 L2011,450.4 L2011.5,448.5 L2012,446.7 L2013.5,441.6 L2015,437.1 L2016.5,433 L2018,429.4 L2019.5,426.1 L2021,423.1 L2022.5,420.5 L2024,418.1 L2025.5,416 L2027,414.1 L2028.5,412.4 L2030,410.8 L2031.5,409.4 L2033,408.2 L2034.5,407 L2036,406 L2037.5,405.1 L2039,404.3 L2040.5,403.6 L2042,402.9 L2043.5,402.3 L2045,401.8 L2046.5,401.3 L2048.1,400.9 L2049.6,400.5 L2051.1,400.1 L2052.6,399.8 L2054.1,399.5 L2055.6,399.2 L2057.1,399 L2058.6,398.8 L2060.1,398.6 L2061.6,398.4 L2063.1,398.3 L2064.6,398.1 L2066.1,398 L2067.6,397.9 L2069.1,397.8 L2070,397.7" stroke="#000000" stroke-width="5.4" fill="none" stroke-linejoin="round" stroke-linecap="butt"/><path d="M2030,410.8 L2031.5,409.4 L2033,408.2 L2034.5,407 L2036,406 L2037.5,405.1 L2039,404.3 L2040.5,403.6 L2042,402.9 L2043.5,402.3 L2045,401.8 L2046.5,401.3 L2048.1,400.9 L2049.6,400.5 L2051.1,400.1 L2052.6,399.8 L2054.1,399.5 L2055.6,399.2 L2057.1,399 L2058.6,398.8 L2060.1,398.6 L2061.6,398.4 L2063.1,398.3 L2064.6,398.1 L2066.1,398 L2067.6,397.9 L2069.1,397.8 L2070,397.7" stroke="#000000" stroke-width="6.0" fill="none" stroke-linejoin="round" stroke-linecap="round"/><path d="M2045,401.8 L2046.5,401.3 L2048.1,400.9 L2049.6,400.5 L2051.1,400.1 L2052.6,399.8 L2054.1,399.5 L2055.6,399.2 L2057.1,399 L2058.6,398.8 L2060.1,398.6 L2061.6,398.4 L2063.1,398.3 L2064.6,398.1 L2066.1,398 L2067.6,397.9 L2069.1,397.8 L2070,397.7" stroke="#000000" stroke-width="6.6" fill="none" stroke-linejoin="round" stroke-linecap="round"/><path d="M2058.6,398.8 L2060.1,398.6 L2061.6,398.4 L2063.1,398.3 L2064.6,398.1 L2066.1,398 L2067.6,397.9 L2069.1,397.8 L2070,397.7" stroke="#000000" stroke-width="7.2" fill="none" stroke-linejoin="round" stroke-linecap="round"/>
<rect x="1999.4" y="366.4" width="22.3" height="7.9" fill="#000"/>
<path d="M2101.7,393.7 L2102.3,629.5" stroke="#000000" stroke-width="4.6" fill="none"/><ellipse cx="2100.7" cy="394.3" rx="3.4" ry="2.8" fill="#000000"/><path d="M2102,627.5 L2102.2,606.4 L2102.5,588.3 L2102.8,572.7 L2103,559.3 L2103.2,547.6 L2103.5,537.5 L2103.8,528.7 L2104,521.1 L2104.2,514.3 L2104.5,508.4 L2104.8,503.1 L2105,498.5 L2105.2,494.3 L2105.5,490.6 L2105.8,487.2 L2106.2,481.3 L2106.8,476.4 L2107.2,472.1 L2107.8,468.4 L2108.2,465 L2108.8,462 L2109.2,459.2 L2109.8,456.6 L2110.2,454.2 L2110.8,451.9 L2111.2,449.7 L2111.8,447.6 L2112.2,445.6 L2112.8,443.7 L2113.2,441.9 L2113.8,440.1 L2115.2,435.2 L2116.8,430.9 L2118.2,426.9 L2119.8,423.4 L2121.2,420.2 L2122.8,417.4 L2124.2,414.8 L2125.8,412.5 L2127.2,410.4 L2128.8,408.6 L2130.2,406.9 L2131.8,405.4 L2133.2,404 L2134.8,402.8 L2136.2,401.7 L2137.8,400.7 L2139.2,399.8 L2140.8,399 L2142.2,398.3 L2143.8,397.6 L2145.2,397.1 L2146.8,396.5 L2148.2,396.1 L2149.8,395.6 L2151.2,395.2 L2152.8,394.9 L2154.2,394.6 L2155.8,394.3 L2157.2,394 L2158.8,393.8 L2160.2,393.6 L2161.8,393.4 L2163.2,393.2 L2164.8,393.1 L2166.2,392.9 L2167.8,392.8 L2169.2,392.7 L2170.8,392.6 L2171.7,392.5" stroke="#000000" stroke-width="5.4" fill="none" stroke-linejoin="round" stroke-linecap="butt"/><path d="M2131.8,405.4 L2133.2,404 L2134.8,402.8 L2136.2,401.7 L2137.8,400.7 L2139.2,399.8 L2140.8,399 L2142.2,398.3 L2143.8,397.6 L2145.2,397.1 L2146.8,396.5 L2148.2,396.1 L2149.8,395.6 L2151.2,395.2 L2152.8,394.9 L2154.2,394.6 L2155.8,394.3 L2157.2,394 L2158.8,393.8 L2160.2,393.6 L2161.8,393.4 L2163.2,393.2 L2164.8,393.1 L2166.2,392.9 L2167.8,392.8 L2169.2,392.7 L2170.8,392.6 L2171.7,392.5" stroke="#000000" stroke-width="6.0" fill="none" stroke-linejoin="round" stroke-linecap="round"/><path d="M2146.8,396.5 L2148.2,396.1 L2149.8,395.6 L2151.2,395.2 L2152.8,394.9 L2154.2,394.6 L2155.8,394.3 L2157.2,394 L2158.8,393.8 L2160.2,393.6 L2161.8,393.4 L2163.2,393.2 L2164.8,393.1 L2166.2,392.9 L2167.8,392.8 L2169.2,392.7 L2170.8,392.6 L2171.7,392.5" stroke="#000000" stroke-width="6.6" fill="none" stroke-linejoin="round" stroke-linecap="round"/><path d="M2160.2,393.6 L2161.8,393.4 L2163.2,393.2 L2164.8,393.1 L2166.2,392.9 L2167.8,392.8 L2169.2,392.7 L2170.8,392.6 L2171.7,392.5" stroke="#000000" stroke-width="7.2" fill="none" stroke-linejoin="round" stroke-linecap="round"/>
<rect x="2100.1" y="360" width="22" height="7.9" fill="#000"/>
<path d="M67,1033.5 L67.6,1327.8" stroke="#000000" stroke-width="4.6" fill="none"/><ellipse cx="66" cy="1034.1" rx="3.4" ry="2.8" fill="#000000"/><path d="M67.3,1325.8 L67.5,1316.7 L67.8,1308.4 L68,1300.8 L68.3,1294 L68.5,1287.6 L68.8,1281.8 L69,1276.3 L69.3,1271.2 L69.5,1266.4 L69.8,1261.9 L70,1257.6 L70.3,1253.5 L70.5,1249.6 L70.8,1245.8 L71,1242.2 L71.5,1235.3 L72,1228.8 L72.5,1222.7 L73,1216.9 L73.5,1211.3 L74,1205.9 L74.5,1200.8 L75,1195.8 L75.5,1190.9 L76,1186.3 L76.5,1181.8 L77,1177.4 L77.5,1173.1 L78,1169 L78.5,1165 L79,1161.2 L80.5,1150.3 L82,1140.3 L83.5,1131.2 L85,1122.9 L86.5,1115.3 L88,1108.3 L89.5,1102 L91,1096.1 L92.5,1090.8 L94,1086 L95.5,1081.5 L97,1077.5 L98.5,1073.7 L100,1070.3 L101.5,1067.2 L103,1064.4 L104.5,1061.8 L106,1059.4 L107.5,1057.2 L109,1055.2 L110.5,1053.4 L112,1051.7 L113.5,1050.1 L115,1048.7 L116.5,1047.4 L118,1046.2 L119.5,1045.1 L121,1044.1 L122.5,1043.2 L124,1042.3 L125.5,1041.5 L127,1040.8 L128.6,1040.1 L130.1,1039.5 L131.6,1038.9 L133.1,1038.4 L134.6,1037.9 L136.1,1037.5 L137,1037.2" stroke="#000000" stroke-width="5.4" fill="none" stroke-linejoin="round" stroke-linecap="butt"/><path d="M97,1077.5 L98.5,1073.7 L100,1070.3 L101.5,1067.2 L103,1064.4 L104.5,1061.8 L106,1059.4 L107.5,1057.2 L109,1055.2 L110.5,1053.4 L112,1051.7 L113.5,1050.1 L115,1048.7 L116.5,1047.4 L118,1046.2 L119.5,1045.1 L121,1044.1 L122.5,1043.2 L124,1042.3 L125.5,1041.5 L127,1040.8 L128.6,1040.1 L130.1,1039.5 L131.6,1038.9 L133.1,1038.4 L134.6,1037.9 L136.1,1037.5 L137,1037.2" stroke="#000000" stroke-width="6.0" fill="none" stroke-linejoin="round" stroke-linecap="round"/><path d="M112,1051.7 L113.5,1050.1 L115,1048.7 L116.5,1047.4 L118,1046.2 L119.5,1045.1 L121,1044.1 L122.5,1043.2 L124,1042.3 L125.5,1041.5 L127,1040.8 L128.6,1040.1 L130.1,1039.5 L131.6,1038.9 L133.1,1038.4 L134.6,1037.9 L136.1,1037.5 L137,1037.2" stroke="#000000" stroke-width="6.6" fill="none" stroke-linejoin="round" stroke-linecap="round"/><path d="M125.5,1041.5 L127,1040.8 L128.6,1040.1 L130.1,1039.5 L131.6,1038.9 L133.1,1038.4 L134.6,1037.9 L136.1,1037.5 L137,1037.2" stroke="#000000" stroke-width="7.2" fill="none" stroke-linejoin="round" stroke-linecap="round"/>
<rect x="65.4" y="983.1" width="22.3" height="7.8" fill="#000"/>
<path d="M173.9,1033.5 L174.5,1313.2" stroke="#000000" stroke-width="4.6" fill="none"/><ellipse cx="172.9" cy="1034.1" rx="3.4" ry="2.8" fill="#000000"/><path d="M174.2,1311.2 L174.5,1302.7 L174.7,1294.9 L175,1287.9 L175.2,1281.4 L175.5,1275.5 L175.7,1270 L176,1264.8 L176.2,1260 L176.5,1255.5 L176.7,1251.2 L177,1247.1 L177.2,1243.2 L177.5,1239.5 L177.7,1235.9 L178,1232.4 L178.5,1225.9 L179,1219.7 L179.5,1213.8 L180,1208.2 L180.5,1202.9 L181,1197.7 L181.5,1192.8 L182,1188 L182.5,1183.4 L183,1178.9 L183.5,1174.6 L184,1170.4 L184.5,1166.3 L185,1162.4 L185.5,1158.6 L186,1154.9 L187.5,1144.4 L189,1134.9 L190.5,1126.2 L192,1118.3 L193.5,1111 L195,1104.4 L196.5,1098.3 L198,1092.8 L199.5,1087.7 L201,1083.1 L202.5,1078.9 L204,1075 L205.5,1071.5 L206.9,1068.3 L208.4,1065.3 L209.9,1062.6 L211.4,1060.2 L212.9,1057.9 L214.4,1055.9 L215.9,1054 L217.4,1052.2 L218.9,1050.6 L220.4,1049.2 L221.9,1047.9 L223.4,1046.6 L224.9,1045.5 L226.4,1044.5 L227.9,1043.5 L229.4,1042.7 L230.9,1041.9 L232.4,1041.1 L233.9,1040.4 L235.4,1039.8 L236.9,1039.2 L238.4,1038.7 L239.9,1038.2 L241.4,1037.8 L242.9,1037.3 L243.9,1037.1" stroke="#000000" stroke-width="5.4" fill="none" stroke-linejoin="round" stroke-linecap="butt"/><path d="M204,1075 L205.5,1071.5 L206.9,1068.3 L208.4,1065.3 L209.9,1062.6 L211.4,1060.2 L212.9,1057.9 L214.4,1055.9 L215.9,1054 L217.4,1052.2 L218.9,1050.6 L220.4,1049.2 L221.9,1047.9 L223.4,1046.6 L224.9,1045.5 L226.4,1044.5 L227.9,1043.5 L229.4,1042.7 L230.9,1041.9 L232.4,1041.1 L233.9,1040.4 L235.4,1039.8 L236.9,1039.2 L238.4,1038.7 L239.9,1038.2 L241.4,1037.8 L242.9,1037.3 L243.9,1037.1" stroke="#000000" stroke-width="6.0" fill="none" stroke-linejoin="round" stroke-linecap="round"/><path d="M218.9,1050.6 L220.4,1049.2 L221.9,1047.9 L223.4,1046.6 L224.9,1045.5 L226.4,1044.5 L227.9,1043.5 L229.4,1042.7 L230.9,1041.9 L232.4,1041.1 L233.9,1040.4 L235.4,1039.8 L236.9,1039.2 L238.4,1038.7 L239.9,1038.2 L241.4,1037.8 L242.9,1037.3 L243.9,1037.1" stroke="#000000" stroke-width="6.6" fill="none" stroke-linejoin="round" stroke-linecap="round"/><path d="M232.4,1041.1 L233.9,1040.4 L235.4,1039.8 L236.9,1039.2 L238.4,1038.7 L239.9,1038.2 L241.4,1037.8 L242.9,1037.3 L243.9,1037.1" stroke="#000000" stroke-width="7.2" fill="none" stroke-linejoin="round" stroke-linecap="round"/>
<rect x="172.3" y="983.1" width="22.3" height="7.8" fill="#000"/>
<path d="M281.5,1033.5 L282.1,1312" stroke="#000000" stroke-width="4.6" fill="none"/><ellipse cx="280.5" cy="1034.1" rx="3.4" ry="2.8" fill="#000000"/><path d="M281.8,1310 L282.1,1301.7 L282.3,1294.1 L282.6,1287.2 L282.8,1280.8 L283.1,1275 L283.3,1269.5 L283.6,1264.4 L283.8,1259.6 L284.1,1255.1 L284.3,1250.9 L284.6,1246.8 L284.8,1242.9 L285.1,1239.2 L285.3,1235.6 L285.6,1232.2 L286.1,1225.6 L286.6,1219.4 L287.1,1213.5 L287.6,1207.9 L288.1,1202.5 L288.6,1197.4 L289.1,1192.4 L289.6,1187.6 L290.1,1182.9 L290.6,1178.5 L291.1,1174.1 L291.6,1169.9 L292.1,1165.8 L292.6,1161.9 L293.1,1158 L293.6,1154.3 L295.1,1143.8 L296.6,1134.3 L298.1,1125.6 L299.6,1117.6 L301.1,1110.4 L302.6,1103.7 L304.1,1097.7 L305.6,1092.2 L307.1,1087.1 L308.6,1082.5 L310.1,1078.3 L311.6,1074.5 L313.1,1071 L314.6,1067.8 L316.1,1064.8 L317.6,1062.2 L319.1,1059.7 L320.6,1057.5 L322.1,1055.4 L323.6,1053.6 L325.1,1051.9 L326.6,1050.3 L328.1,1048.8 L329.6,1047.5 L331.1,1046.3 L332.6,1045.2 L334.1,1044.2 L335.6,1043.3 L337.1,1042.4 L338.6,1041.6 L340.1,1040.9 L341.6,1040.2 L343.1,1039.6 L344.6,1039.1 L346.1,1038.5 L347.6,1038.1 L349.1,1037.6 L350.6,1037.2 L351.5,1037" stroke="#000000" stroke-width="5.4" fill="none" stroke-linejoin="round" stroke-linecap="butt"/><path d="M311.6,1074.5 L313.1,1071 L314.6,1067.8 L316.1,1064.8 L317.6,1062.2 L319.1,1059.7 L320.6,1057.5 L322.1,1055.4 L323.6,1053.6 L325.1,1051.9 L326.6,1050.3 L328.1,1048.8 L329.6,1047.5 L331.1,1046.3 L332.6,1045.2 L334.1,1044.2 L335.6,1043.3 L337.1,1042.4 L338.6,1041.6 L340.1,1040.9 L341.6,1040.2 L343.1,1039.6 L344.6,1039.1 L346.1,1038.5 L347.6,1038.1 L349.1,1037.6 L350.6,1037.2 L351.5,1037" stroke="#000000" stroke-width="6.0" fill="none" stroke-linejoin="round" stroke-linecap="round"/><path d="M326.6,1050.3 L328.1,1048.8 L329.6,1047.5 L331.1,1046.3 L332.6,1045.2 L334.1,1044.2 L335.6,1043.3 L337.1,1042.4 L338.6,1041.6 L340.1,1040.9 L341.6,1040.2 L343.1,1039.6 L344.6,1039.1 L346.1,1038.5 L347.6,1038.1 L349.1,1037.6 L350.6,1037.2 L351.5,1037" stroke="#000000" stroke-width="6.6" fill="none" stroke-linejoin="round" stroke-linecap="round"/><path d="M340.1,1040.9 L341.6,1040.2 L343.1,1039.6 L344.6,1039.1 L346.1,1038.5 L347.6,1038.1 L349.1,1037.6 L350.6,1037.2 L351.5,1037" stroke="#000000" stroke-width="7.2" fill="none" stroke-linejoin="round" stroke-linecap="round"/>
<rect x="279.9" y="983.1" width="22.3" height="7.8" fill="#000"/>
<path d="M388.8,1033.5 L389.4,1312.8" stroke="#000000" stroke-width="4.6" fill="none"/><ellipse cx="387.8" cy="1034.1" rx="3.4" ry="2.8" fill="#000000"/><path d="M389.1,1310.8 L389.4,1302.6 L389.6,1295.1 L389.9,1288.3 L390.1,1282 L390.4,1276.2 L390.6,1270.8 L390.9,1265.7 L391.1,1260.9 L391.4,1256.4 L391.6,1252.1 L391.9,1248.1 L392.1,1244.2 L392.4,1240.4 L392.6,1236.8 L392.9,1233.3 L393.4,1226.7 L393.9,1220.5 L394.4,1214.5 L394.9,1208.8 L395.4,1203.4 L395.9,1198.2 L396.4,1193.1 L396.9,1188.3 L397.4,1183.6 L397.9,1179 L398.4,1174.6 L398.9,1170.4 L399.4,1166.2 L399.9,1162.2 L400.4,1158.4 L400.9,1154.6 L402.4,1144 L403.9,1134.4 L405.4,1125.6 L406.9,1117.6 L408.4,1110.2 L409.9,1103.6 L411.4,1097.5 L412.9,1091.9 L414.4,1086.9 L415.9,1082.3 L417.4,1078 L418.9,1074.2 L420.4,1070.7 L421.9,1067.5 L423.4,1064.5 L424.9,1061.9 L426.4,1059.4 L427.9,1057.2 L429.4,1055.2 L430.9,1053.3 L432.4,1051.6 L433.9,1050 L435.4,1048.6 L436.9,1047.3 L438.4,1046.1 L439.9,1045 L441.4,1044 L442.9,1043.1 L444.4,1042.2 L445.9,1041.4 L447.4,1040.7 L448.9,1040.1 L450.4,1039.5 L451.9,1038.9 L453.4,1038.4 L454.9,1037.9 L456.4,1037.5 L457.9,1037.1 L458.8,1036.8" stroke="#000000" stroke-width="5.4" fill="none" stroke-linejoin="round" stroke-linecap="butt"/><path d="M418.9,1074.2 L420.4,1070.7 L421.9,1067.5 L423.4,1064.5 L424.9,1061.9 L426.4,1059.4 L427.9,1057.2 L429.4,1055.2 L430.9,1053.3 L432.4,1051.6 L433.9,1050 L435.4,1048.6 L436.9,1047.3 L438.4,1046.1 L439.9,1045 L441.4,1044 L442.9,1043.1 L444.4,1042.2 L445.9,1041.4 L447.4,1040.7 L448.9,1040.1 L450.4,1039.5 L451.9,1038.9 L453.4,1038.4 L454.9,1037.9 L456.4,1037.5 L457.9,1037.1 L458.8,1036.8" stroke="#000000" stroke-width="6.0" fill="none" stroke-linejoin="round" stroke-linecap="round"/><path d="M433.9,1050 L435.4,1048.6 L436.9,1047.3 L438.4,1046.1 L439.9,1045 L441.4,1044 L442.9,1043.1 L444.4,1042.2 L445.9,1041.4 L447.4,1040.7 L448.9,1040.1 L450.4,1039.5 L451.9,1038.9 L453.4,1038.4 L454.9,1037.9 L456.4,1037.5 L457.9,1037.1 L458.8,1036.8" stroke="#000000" stroke-width="6.6" fill="none" stroke-linejoin="round" stroke-linecap="round"/><path d="M447.4,1040.7 L448.9,1040.1 L450.4,1039.5 L451.9,1038.9 L453.4,1038.4 L454.9,1037.9 L456.4,1037.5 L457.9,1037.1 L458.8,1036.8" stroke="#000000" stroke-width="7.2" fill="none" stroke-linejoin="round" stroke-linecap="round"/>
<rect x="387.2" y="983.1" width="22.3" height="7.8" fill="#000"/>
<path d="M496,1033.5 L496.6,1310.7" stroke="#000000" stroke-width="4.6" fill="none"/><ellipse cx="495" cy="1034.1" rx="3.4" ry="2.8" fill="#000000"/><path d="M496.3,1308.7 L496.6,1300.7 L496.8,1293.4 L497.1,1286.8 L497.3,1280.6 L497.6,1274.9 L497.8,1269.5 L498.1,1264.5 L498.3,1259.8 L498.6,1255.4 L498.8,1251.1 L499.1,1247.1 L499.3,1243.2 L499.6,1239.5 L499.8,1235.9 L500.1,1232.4 L500.6,1225.8 L501.1,1219.6 L501.6,1213.6 L502.1,1207.9 L502.6,1202.5 L503.1,1197.2 L503.6,1192.2 L504.1,1187.3 L504.6,1182.6 L505.1,1178.1 L505.6,1173.7 L506.1,1169.4 L506.6,1165.3 L507.1,1161.3 L507.6,1157.4 L508.1,1153.6 L509.6,1143.1 L511.1,1133.4 L512.5,1124.6 L514,1116.6 L515.5,1109.3 L517,1102.7 L518.5,1096.6 L520,1091.1 L521.5,1086.1 L523,1081.5 L524.5,1077.3 L526,1073.5 L527.5,1070 L529,1066.8 L530.5,1063.9 L532,1061.3 L533.5,1058.9 L535,1056.7 L536.5,1054.7 L538,1052.8 L539.5,1051.2 L541,1049.6 L542.5,1048.2 L544,1046.9 L545.5,1045.8 L547,1044.7 L548.5,1043.7 L550,1042.8 L551.5,1042 L553,1041.2 L554.5,1040.5 L556,1039.9 L557.5,1039.3 L559,1038.7 L560.5,1038.2 L562,1037.8 L563.5,1037.3 L565,1036.9 L566,1036.7" stroke="#000000" stroke-width="5.4" fill="none" stroke-linejoin="round" stroke-linecap="butt"/><path d="M526,1073.5 L527.5,1070 L529,1066.8 L530.5,1063.9 L532,1061.3 L533.5,1058.9 L535,1056.7 L536.5,1054.7 L538,1052.8 L539.5,1051.2 L541,1049.6 L542.5,1048.2 L544,1046.9 L545.5,1045.8 L547,1044.7 L548.5,1043.7 L550,1042.8 L551.5,1042 L553,1041.2 L554.5,1040.5 L556,1039.9 L557.5,1039.3 L559,1038.7 L560.5,1038.2 L562,1037.8 L563.5,1037.3 L565,1036.9 L566,1036.7" stroke="#000000" stroke-width="6.0" fill="none" stroke-linejoin="round" stroke-linecap="round"/><path d="M541,1049.6 L542.5,1048.2 L544,1046.9 L545.5,1045.8 L547,1044.7 L548.5,1043.7 L550,1042.8 L551.5,1042 L553,1041.2 L554.5,1040.5 L556,1039.9 L557.5,1039.3 L559,1038.7 L560.5,1038.2 L562,1037.8 L563.5,1037.3 L565,1036.9 L566,1036.7" stroke="#000000" stroke-width="6.6" fill="none" stroke-linejoin="round" stroke-linecap="round"/><path d="M554.5,1040.5 L556,1039.9 L557.5,1039.3 L559,1038.7 L560.5,1038.2 L562,1037.8 L563.5,1037.3 L565,1036.9 L566,1036.7" stroke="#000000" stroke-width="7.2" fill="none" stroke-linejoin="round" stroke-linecap="round"/>
<rect x="494.4" y="983.1" width="22.3" height="7.8" fill="#000"/>
<path d="M602.8,1033.5 L603.4,1283.7" stroke="#a0a0a5" stroke-width="4.6" fill="none"/><ellipse cx="601.8" cy="1034.1" rx="3.4" ry="2.8" fill="#a0a0a5"/><path d="M603.4,1281.7 L603.7,1271.7 L603.9,1262.1 L604.2,1252.9 L604.4,1244.6 L604.7,1237.7 L604.9,1230.9 L605.2,1224.4 L605.4,1218.3 L605.7,1212.4 L605.9,1206.7 L606.2,1201.2 L606.4,1196.4 L606.7,1191.9 L606.9,1187.5 L607.4,1179 L607.9,1171.1 L608.4,1170 L608.9,1169 L609.4,1167.5 L609.9,1164.3 L610.4,1161.1 L610.9,1158.3 L611.4,1156.7 L611.9,1155.1 L612.4,1153.6 L612.9,1152.1 L613.4,1150.5 L613.9,1148.9 L614.4,1146.4 L614.9,1144.1 L616.4,1137.2 L617.9,1130.7 L619.4,1124.6 L620.9,1117.9 L622.4,1111.1 L623.9,1105 L625.4,1100.4 L626.9,1096.1 L628.4,1092 L629.9,1088 L631.4,1083.7 L632.9,1079.6 L634.4,1075.4 L635.9,1071.7 L637.4,1068.2 L638.9,1065.1 L640.4,1062.3 L641.9,1059.8 L643.4,1057.6 L644.9,1055.7 L646.4,1053.9 L647.9,1052.3 L649.4,1050.7 L650.9,1049.2 L652.4,1047.8 L653.9,1046.6 L655.4,1045.6 L656.9,1044.6 L658.4,1043.8 L659.9,1043.1 L661.4,1042.4 L662.9,1041.8 L664.4,1041.1 L665.9,1040.4 L667.4,1039.9 L668.9,1039.5 L670.4,1039.1 L671.9,1038.8 L673.4,1038.6 L674.2,1038.5" stroke="#a0a0a5" stroke-width="5.4" fill="none" stroke-linejoin="round" stroke-linecap="butt"/><path d="M632.9,1079.6 L634.4,1075.4 L635.9,1071.7 L637.4,1068.2 L638.9,1065.1 L640.4,1062.3 L641.9,1059.8 L643.4,1057.6 L644.9,1055.7 L646.4,1053.9 L647.9,1052.3 L649.4,1050.7 L650.9,1049.2 L652.4,1047.8 L653.9,1046.6 L655.4,1045.6 L656.9,1044.6 L658.4,1043.8 L659.9,1043.1 L661.4,1042.4 L662.9,1041.8 L664.4,1041.1 L665.9,1040.4 L667.4,1039.9 L668.9,1039.5 L670.4,1039.1 L671.9,1038.8 L673.4,1038.6 L674.2,1038.5" stroke="#a0a0a5" stroke-width="6.0" fill="none" stroke-linejoin="round" stroke-linecap="round"/><path d="M647.9,1052.3 L649.4,1050.7 L650.9,1049.2 L652.4,1047.8 L653.9,1046.6 L655.4,1045.6 L656.9,1044.6 L658.4,1043.8 L659.9,1043.1 L661.4,1042.4 L662.9,1041.8 L664.4,1041.1 L665.9,1040.4 L667.4,1039.9 L668.9,1039.5 L670.4,1039.1 L671.9,1038.8 L673.4,1038.6 L674.2,1038.5" stroke="#a0a0a5" stroke-width="6.6" fill="none" stroke-linejoin="round" stroke-linecap="round"/><path d="M661.4,1042.4 L662.9,1041.8 L664.4,1041.1 L665.9,1040.4 L667.4,1039.9 L668.9,1039.5 L670.4,1039.1 L671.9,1038.8 L673.4,1038.6 L674.2,1038.5" stroke="#a0a0a5" stroke-width="7.2" fill="none" stroke-linejoin="round" stroke-linecap="round"/>
<rect x="601.2" y="983.1" width="22.3" height="7.8" fill="#000"/>
<path d="M709.7,1033.5 L710.3,1296.2" stroke="#a0a0a5" stroke-width="4.6" fill="none"/><ellipse cx="708.7" cy="1034.1" rx="3.4" ry="2.8" fill="#a0a0a5"/><path d="M710.3,1294.2 L710.6,1283.7 L710.8,1273.6 L711.1,1263.9 L711.3,1255.3 L711.6,1247.9 L711.8,1240.8 L712.1,1233.9 L712.3,1227.5 L712.6,1221.3 L712.8,1215.4 L713.1,1209.6 L713.3,1204.5 L713.6,1199.8 L713.8,1195.2 L714.3,1186.3 L714.8,1177.9 L715.3,1176.8 L715.8,1175.7 L716.3,1174.1 L716.8,1170.7 L717.3,1167.4 L717.8,1164.5 L718.3,1162.8 L718.8,1161.2 L719.3,1159.5 L719.8,1157.9 L720.3,1156.3 L720.8,1154.6 L721.3,1152 L721.8,1149.5 L723.3,1142.3 L724.8,1135.5 L726.3,1129 L727.8,1122 L729.3,1114.8 L730.8,1108.4 L732.3,1103.6 L733.8,1099 L735.3,1094.8 L736.8,1090.6 L738.3,1086.1 L739.8,1081.7 L741.3,1077.4 L742.8,1073.4 L744.3,1069.8 L745.8,1066.5 L747.3,1063.5 L748.8,1061 L750.3,1058.7 L751.8,1056.6 L753.3,1054.7 L754.8,1053 L756.3,1051.3 L757.8,1049.8 L759.3,1048.4 L760.8,1047.1 L762.3,1046 L763.8,1045 L765.3,1044.1 L766.8,1043.4 L768.3,1042.7 L769.8,1042.1 L771.3,1041.2 L772.8,1040.6 L774.3,1040 L775.8,1039.6 L777.3,1039.2 L778.8,1038.9 L780.3,1038.6 L781.1,1038.5" stroke="#a0a0a5" stroke-width="5.4" fill="none" stroke-linejoin="round" stroke-linecap="butt"/><path d="M739.8,1081.7 L741.3,1077.4 L742.8,1073.4 L744.3,1069.8 L745.8,1066.5 L747.3,1063.5 L748.8,1061 L750.3,1058.7 L751.8,1056.6 L753.3,1054.7 L754.8,1053 L756.3,1051.3 L757.8,1049.8 L759.3,1048.4 L760.8,1047.1 L762.3,1046 L763.8,1045 L765.3,1044.1 L766.8,1043.4 L768.3,1042.7 L769.8,1042.1 L771.3,1041.2 L772.8,1040.6 L774.3,1040 L775.8,1039.6 L777.3,1039.2 L778.8,1038.9 L780.3,1038.6 L781.1,1038.5" stroke="#a0a0a5" stroke-width="6.0" fill="none" stroke-linejoin="round" stroke-linecap="round"/><path d="M754.8,1053 L756.3,1051.3 L757.8,1049.8 L759.3,1048.4 L760.8,1047.1 L762.3,1046 L763.8,1045 L765.3,1044.1 L766.8,1043.4 L768.3,1042.7 L769.8,1042.1 L771.3,1041.2 L772.8,1040.6 L774.3,1040 L775.8,1039.6 L777.3,1039.2 L778.8,1038.9 L780.3,1038.6 L781.1,1038.5" stroke="#a0a0a5" stroke-width="6.6" fill="none" stroke-linejoin="round" stroke-linecap="round"/><path d="M768.3,1042.7 L769.8,1042.1 L771.3,1041.2 L772.8,1040.6 L774.3,1040 L775.8,1039.6 L777.3,1039.2 L778.8,1038.9 L780.3,1038.6 L781.1,1038.5" stroke="#a0a0a5" stroke-width="7.2" fill="none" stroke-linejoin="round" stroke-linecap="round"/>
<rect x="708.1" y="983.1" width="22.3" height="7.8" fill="#000"/>
<path d="M816.9,1033.5 L817.5,1299.5" stroke="#a0a0a5" stroke-width="4.6" fill="none"/><ellipse cx="815.9" cy="1034.1" rx="3.4" ry="2.8" fill="#a0a0a5"/><path d="M817.5,1297.5 L817.8,1286.8 L818,1276.6 L818.2,1266.8 L818.5,1258 L818.8,1250.6 L819,1243.4 L819.2,1236.5 L819.5,1230 L819.8,1223.7 L820,1217.7 L820.2,1211.8 L820.5,1206.7 L820.8,1201.9 L821,1197.2 L821.5,1188.2 L822,1179.7 L822.5,1178.6 L823,1177.5 L823.5,1175.9 L824,1172.5 L824.5,1169.1 L825,1166.1 L825.5,1164.4 L826,1162.7 L826.5,1161.1 L827,1159.5 L827.5,1157.9 L828,1156.1 L828.5,1153.5 L829,1151 L830.5,1143.7 L832,1136.7 L833.5,1130.2 L835,1123.1 L836.5,1115.8 L838,1109.4 L839.5,1104.4 L841,1099.8 L842.5,1095.6 L844,1091.3 L845.5,1086.7 L847,1082.3 L848.5,1077.9 L850,1073.9 L851.5,1070.2 L853,1066.9 L854.5,1063.9 L856,1061.3 L857.5,1058.9 L859,1056.8 L860.5,1054.9 L862,1053.2 L863.5,1051.5 L865,1049.9 L866.5,1048.5 L868,1047.2 L869.5,1046.1 L871,1045.1 L872.5,1044.2 L874,1043.4 L875.5,1042.8 L877,1042.1 L878.5,1041.3 L880,1040.6 L881.5,1040.1 L883,1039.6 L884.5,1039.2 L886,1038.9 L887.5,1038.7 L888.3,1038.5" stroke="#a0a0a5" stroke-width="5.4" fill="none" stroke-linejoin="round" stroke-linecap="butt"/><path d="M847,1082.3 L848.5,1077.9 L850,1073.9 L851.5,1070.2 L853,1066.9 L854.5,1063.9 L856,1061.3 L857.5,1058.9 L859,1056.8 L860.5,1054.9 L862,1053.2 L863.5,1051.5 L865,1049.9 L866.5,1048.5 L868,1047.2 L869.5,1046.1 L871,1045.1 L872.5,1044.2 L874,1043.4 L875.5,1042.8 L877,1042.1 L878.5,1041.3 L880,1040.6 L881.5,1040.1 L883,1039.6 L884.5,1039.2 L886,1038.9 L887.5,1038.7 L888.3,1038.5" stroke="#a0a0a5" stroke-width="6.0" fill="none" stroke-linejoin="round" stroke-linecap="round"/><path d="M862,1053.2 L863.5,1051.5 L865,1049.9 L866.5,1048.5 L868,1047.2 L869.5,1046.1 L871,1045.1 L872.5,1044.2 L874,1043.4 L875.5,1042.8 L877,1042.1 L878.5,1041.3 L880,1040.6 L881.5,1040.1 L883,1039.6 L884.5,1039.2 L886,1038.9 L887.5,1038.7 L888.3,1038.5" stroke="#a0a0a5" stroke-width="6.6" fill="none" stroke-linejoin="round" stroke-linecap="round"/><path d="M875.5,1042.8 L877,1042.1 L878.5,1041.3 L880,1040.6 L881.5,1040.1 L883,1039.6 L884.5,1039.2 L886,1038.9 L887.5,1038.7 L888.3,1038.5" stroke="#a0a0a5" stroke-width="7.2" fill="none" stroke-linejoin="round" stroke-linecap="round"/>
<rect x="815.3" y="983.1" width="22.3" height="7.8" fill="#000"/>
<path d="M924.2,1033.5 L924.8,1294.1" stroke="#a0a0a5" stroke-width="4.6" fill="none"/><ellipse cx="923.2" cy="1034.1" rx="3.4" ry="2.8" fill="#a0a0a5"/><path d="M924.8,1292.1 L925.1,1281.7 L925.3,1271.6 L925.6,1262 L925.8,1253.5 L926.1,1246.2 L926.3,1239.1 L926.6,1232.3 L926.8,1226 L927.1,1219.8 L927.3,1213.9 L927.6,1208.2 L927.8,1203.2 L928.1,1198.5 L928.3,1193.9 L928.8,1185.1 L929.3,1176.8 L929.8,1175.7 L930.3,1174.6 L930.8,1173 L931.3,1169.6 L931.8,1166.4 L932.3,1163.4 L932.8,1161.8 L933.3,1160.1 L933.8,1158.5 L934.3,1156.9 L934.8,1155.4 L935.3,1153.6 L935.8,1151.1 L936.3,1148.6 L937.8,1141.5 L939.3,1134.7 L940.8,1128.3 L942.3,1121.3 L943.8,1114.2 L945.3,1107.9 L946.8,1103 L948.3,1098.5 L949.8,1094.4 L951.3,1090.2 L952.8,1085.7 L954.3,1081.4 L955.8,1077.1 L957.3,1073.1 L958.8,1069.5 L960.3,1066.3 L961.8,1063.3 L963.3,1060.8 L964.8,1058.5 L966.3,1056.4 L967.8,1054.6 L969.3,1052.9 L970.8,1051.2 L972.3,1049.7 L973.8,1048.3 L975.3,1047 L976.8,1045.9 L978.3,1044.9 L979.8,1044.1 L981.3,1043.3 L982.8,1042.6 L984.3,1042 L985.8,1041.2 L987.3,1040.5 L988.8,1040 L990.3,1039.5 L991.8,1039.2 L993.3,1038.9 L994.8,1038.6 L995.6,1038.5" stroke="#a0a0a5" stroke-width="5.4" fill="none" stroke-linejoin="round" stroke-linecap="butt"/><path d="M954.3,1081.4 L955.8,1077.1 L957.3,1073.1 L958.8,1069.5 L960.3,1066.3 L961.8,1063.3 L963.3,1060.8 L964.8,1058.5 L966.3,1056.4 L967.8,1054.6 L969.3,1052.9 L970.8,1051.2 L972.3,1049.7 L973.8,1048.3 L975.3,1047 L976.8,1045.9 L978.3,1044.9 L979.8,1044.1 L981.3,1043.3 L982.8,1042.6 L984.3,1042 L985.8,1041.2 L987.3,1040.5 L988.8,1040 L990.3,1039.5 L991.8,1039.2 L993.3,1038.9 L994.8,1038.6 L995.6,1038.5" stroke="#a0a0a5" stroke-width="6.0" fill="none" stroke-linejoin="round" stroke-linecap="round"/><path d="M969.3,1052.9 L970.8,1051.2 L972.3,1049.7 L973.8,1048.3 L975.3,1047 L976.8,1045.9 L978.3,1044.9 L979.8,1044.1 L981.3,1043.3 L982.8,1042.6 L984.3,1042 L985.8,1041.2 L987.3,1040.5 L988.8,1040 L990.3,1039.5 L991.8,1039.2 L993.3,1038.9 L994.8,1038.6 L995.6,1038.5" stroke="#a0a0a5" stroke-width="6.6" fill="none" stroke-linejoin="round" stroke-linecap="round"/><path d="M982.8,1042.6 L984.3,1042 L985.8,1041.2 L987.3,1040.5 L988.8,1040 L990.3,1039.5 L991.8,1039.2 L993.3,1038.9 L994.8,1038.6 L995.6,1038.5" stroke="#a0a0a5" stroke-width="7.2" fill="none" stroke-linejoin="round" stroke-linecap="round"/>
<rect x="922.6" y="983.1" width="22.3" height="7.8" fill="#000"/>
<path d="M1031.4,1033.5 L1032,1275.4" stroke="#a0a0a5" stroke-width="4.6" fill="none"/><ellipse cx="1030.4" cy="1034.1" rx="3.4" ry="2.8" fill="#a0a0a5"/><path d="M1032,1273.4 L1032.2,1263.7 L1032.5,1254.4 L1032.7,1245.5 L1033,1237.6 L1033.2,1230.9 L1033.5,1224.3 L1033.7,1218 L1034,1212.1 L1034.2,1206.4 L1034.5,1201 L1034.7,1195.6 L1035,1191 L1035.2,1186.6 L1035.5,1182.4 L1036,1174.2 L1036.5,1166.5 L1037,1165.5 L1037.5,1164.5 L1038,1163.1 L1038.5,1159.9 L1039,1156.9 L1039.5,1154.2 L1040,1152.7 L1040.5,1151.1 L1041,1149.6 L1041.5,1148.2 L1042,1146.7 L1042.5,1145.1 L1043,1142.7 L1043.5,1140.4 L1045,1133.8 L1046.5,1127.5 L1048,1121.6 L1049.5,1115.1 L1051,1108.6 L1052.5,1102.7 L1054,1098.2 L1055.5,1094.1 L1057,1090.2 L1058.5,1086.3 L1060,1082.1 L1061.5,1078.2 L1063,1074.2 L1064.5,1070.5 L1066,1067.2 L1067.5,1064.1 L1069,1061.4 L1070.5,1059.1 L1072,1056.9 L1073.5,1055 L1075,1053.3 L1076.5,1051.8 L1078,1050.2 L1079.5,1048.8 L1081,1047.5 L1082.5,1046.3 L1084,1045.3 L1085.5,1044.4 L1087,1043.6 L1088.5,1042.9 L1090,1042.3 L1091.5,1041.7 L1093,1040.9 L1094.5,1040.3 L1096,1039.8 L1097.5,1039.4 L1099,1039.1 L1100.5,1038.8 L1102,1038.5 L1102.8,1038.4" stroke="#a0a0a5" stroke-width="5.4" fill="none" stroke-linejoin="round" stroke-linecap="butt"/><path d="M1061.5,1078.2 L1063,1074.2 L1064.5,1070.5 L1066,1067.2 L1067.5,1064.1 L1069,1061.4 L1070.5,1059.1 L1072,1056.9 L1073.5,1055 L1075,1053.3 L1076.5,1051.8 L1078,1050.2 L1079.5,1048.8 L1081,1047.5 L1082.5,1046.3 L1084,1045.3 L1085.5,1044.4 L1087,1043.6 L1088.5,1042.9 L1090,1042.3 L1091.5,1041.7 L1093,1040.9 L1094.5,1040.3 L1096,1039.8 L1097.5,1039.4 L1099,1039.1 L1100.5,1038.8 L1102,1038.5 L1102.8,1038.4" stroke="#a0a0a5" stroke-width="6.0" fill="none" stroke-linejoin="round" stroke-linecap="round"/><path d="M1076.5,1051.8 L1078,1050.2 L1079.5,1048.8 L1081,1047.5 L1082.5,1046.3 L1084,1045.3 L1085.5,1044.4 L1087,1043.6 L1088.5,1042.9 L1090,1042.3 L1091.5,1041.7 L1093,1040.9 L1094.5,1040.3 L1096,1039.8 L1097.5,1039.4 L1099,1039.1 L1100.5,1038.8 L1102,1038.5 L1102.8,1038.4" stroke="#a0a0a5" stroke-width="6.6" fill="none" stroke-linejoin="round" stroke-linecap="round"/><path d="M1090,1042.3 L1091.5,1041.7 L1093,1040.9 L1094.5,1040.3 L1096,1039.8 L1097.5,1039.4 L1099,1039.1 L1100.5,1038.8 L1102,1038.5 L1102.8,1038.4" stroke="#a0a0a5" stroke-width="7.2" fill="none" stroke-linejoin="round" stroke-linecap="round"/>
<rect x="1029.8" y="983.1" width="22.3" height="7.8" fill="#000"/>
<path d="M1139.5,1033.5 L1140.1,1271.2" stroke="#000000" stroke-width="4.6" fill="none"/><ellipse cx="1138.5" cy="1034.1" rx="3.4" ry="2.8" fill="#000000"/><path d="M1139.8,1269.2 L1140,1263.9 L1140.3,1258.9 L1140.5,1254.2 L1140.8,1249.7 L1141,1245.5 L1141.3,1241.5 L1141.5,1237.6 L1141.8,1233.9 L1142,1230.3 L1142.3,1226.8 L1142.5,1223.5 L1142.8,1220.2 L1143,1217.1 L1143.3,1214 L1143.5,1211 L1144,1205.2 L1144.5,1199.7 L1145,1194.4 L1145.5,1189.3 L1146,1184.3 L1146.5,1179.6 L1147,1175 L1147.5,1170.6 L1148,1166.3 L1148.5,1162.2 L1149,1158.2 L1149.5,1154.3 L1150,1150.5 L1150.5,1146.9 L1151,1143.4 L1151.5,1140 L1153,1130.4 L1154.5,1121.7 L1156,1113.7 L1157.5,1106.6 L1159,1100 L1160.5,1094.1 L1162,1088.7 L1163.5,1083.8 L1165,1079.4 L1166.5,1075.3 L1168,1071.7 L1169.5,1068.3 L1171,1065.3 L1172.5,1062.5 L1174,1060 L1175.5,1057.7 L1177,1055.6 L1178.5,1053.7 L1180,1052 L1181.5,1050.4 L1183,1049 L1184.5,1047.7 L1186,1046.5 L1187.5,1045.4 L1189,1044.5 L1190.5,1043.6 L1192,1042.7 L1193.5,1042 L1195,1041.3 L1196.5,1040.7 L1198,1040.1 L1199.5,1039.6 L1201,1039.1 L1202.5,1038.6 L1204,1038.2 L1205.5,1037.9 L1207,1037.5 L1208.5,1037.2 L1209.5,1037" stroke="#000000" stroke-width="5.4" fill="none" stroke-linejoin="round" stroke-linecap="butt"/><path d="M1169.5,1068.3 L1171,1065.3 L1172.5,1062.5 L1174,1060 L1175.5,1057.7 L1177,1055.6 L1178.5,1053.7 L1180,1052 L1181.5,1050.4 L1183,1049 L1184.5,1047.7 L1186,1046.5 L1187.5,1045.4 L1189,1044.5 L1190.5,1043.6 L1192,1042.7 L1193.5,1042 L1195,1041.3 L1196.5,1040.7 L1198,1040.1 L1199.5,1039.6 L1201,1039.1 L1202.5,1038.6 L1204,1038.2 L1205.5,1037.9 L1207,1037.5 L1208.5,1037.2 L1209.5,1037" stroke="#000000" stroke-width="6.0" fill="none" stroke-linejoin="round" stroke-linecap="round"/><path d="M1184.5,1047.7 L1186,1046.5 L1187.5,1045.4 L1189,1044.5 L1190.5,1043.6 L1192,1042.7 L1193.5,1042 L1195,1041.3 L1196.5,1040.7 L1198,1040.1 L1199.5,1039.6 L1201,1039.1 L1202.5,1038.6 L1204,1038.2 L1205.5,1037.9 L1207,1037.5 L1208.5,1037.2 L1209.5,1037" stroke="#000000" stroke-width="6.6" fill="none" stroke-linejoin="round" stroke-linecap="round"/><path d="M1198,1040.1 L1199.5,1039.6 L1201,1039.1 L1202.5,1038.6 L1204,1038.2 L1205.5,1037.9 L1207,1037.5 L1208.5,1037.2 L1209.5,1037" stroke="#000000" stroke-width="7.2" fill="none" stroke-linejoin="round" stroke-linecap="round"/>
<rect x="1137.9" y="983.1" width="22.3" height="7.8" fill="#000"/>
<path d="M1246.7,1033.5 L1247.3,1272.4" stroke="#000000" stroke-width="4.6" fill="none"/><ellipse cx="1245.7" cy="1034.1" rx="3.4" ry="2.8" fill="#000000"/><path d="M1247,1270.4 L1247.2,1264.3 L1247.5,1258.7 L1247.7,1253.5 L1248,1248.7 L1248.2,1244.1 L1248.5,1239.8 L1248.7,1235.7 L1249,1231.8 L1249.2,1228.1 L1249.5,1224.5 L1249.7,1221.1 L1250,1217.8 L1250.2,1214.6 L1250.5,1211.5 L1250.7,1208.5 L1251.2,1202.7 L1251.7,1197.2 L1252.2,1192 L1252.7,1187 L1253.2,1182.1 L1253.7,1177.5 L1254.2,1173 L1254.7,1168.7 L1255.2,1164.5 L1255.7,1160.4 L1256.2,1156.5 L1256.7,1152.7 L1257.2,1149 L1257.7,1145.5 L1258.2,1142 L1258.7,1138.7 L1260.2,1129.3 L1261.7,1120.8 L1263.2,1113 L1264.7,1105.9 L1266.2,1099.5 L1267.7,1093.7 L1269.2,1088.4 L1270.7,1083.5 L1272.2,1079.2 L1273.7,1075.2 L1275.2,1071.5 L1276.7,1068.2 L1278.2,1065.2 L1279.7,1062.5 L1281.2,1060 L1282.7,1057.7 L1284.2,1055.6 L1285.7,1053.7 L1287.2,1052 L1288.7,1050.4 L1290.2,1049 L1291.7,1047.7 L1293.2,1046.5 L1294.7,1045.4 L1296.2,1044.4 L1297.7,1043.5 L1299.2,1042.7 L1300.7,1041.9 L1302.2,1041.2 L1303.7,1040.6 L1305.2,1040 L1306.7,1039.5 L1308.2,1039 L1309.7,1038.6 L1311.2,1038.1 L1312.7,1037.8 L1314.2,1037.4 L1315.7,1037.1 L1316.7,1036.9" stroke="#000000" stroke-width="5.4" fill="none" stroke-linejoin="round" stroke-linecap="butt"/><path d="M1276.7,1068.2 L1278.2,1065.2 L1279.7,1062.5 L1281.2,1060 L1282.7,1057.7 L1284.2,1055.6 L1285.7,1053.7 L1287.2,1052 L1288.7,1050.4 L1290.2,1049 L1291.7,1047.7 L1293.2,1046.5 L1294.7,1045.4 L1296.2,1044.4 L1297.7,1043.5 L1299.2,1042.7 L1300.7,1041.9 L1302.2,1041.2 L1303.7,1040.6 L1305.2,1040 L1306.7,1039.5 L1308.2,1039 L1309.7,1038.6 L1311.2,1038.1 L1312.7,1037.8 L1314.2,1037.4 L1315.7,1037.1 L1316.7,1036.9" stroke="#000000" stroke-width="6.0" fill="none" stroke-linejoin="round" stroke-linecap="round"/><path d="M1291.7,1047.7 L1293.2,1046.5 L1294.7,1045.4 L1296.2,1044.4 L1297.7,1043.5 L1299.2,1042.7 L1300.7,1041.9 L1302.2,1041.2 L1303.7,1040.6 L1305.2,1040 L1306.7,1039.5 L1308.2,1039 L1309.7,1038.6 L1311.2,1038.1 L1312.7,1037.8 L1314.2,1037.4 L1315.7,1037.1 L1316.7,1036.9" stroke="#000000" stroke-width="6.6" fill="none" stroke-linejoin="round" stroke-linecap="round"/><path d="M1305.2,1040 L1306.7,1039.5 L1308.2,1039 L1309.7,1038.6 L1311.2,1038.1 L1312.7,1037.8 L1314.2,1037.4 L1315.7,1037.1 L1316.7,1036.9" stroke="#000000" stroke-width="7.2" fill="none" stroke-linejoin="round" stroke-linecap="round"/>
<rect x="1245.1" y="983.1" width="22.3" height="7.8" fill="#000"/>
<path d="M1354,1033.5 L1354.6,1287.8" stroke="#000000" stroke-width="4.6" fill="none"/><ellipse cx="1353" cy="1034.1" rx="3.4" ry="2.8" fill="#000000"/><path d="M1354.3,1285.8 L1354.5,1278.6 L1354.8,1272 L1355,1265.9 L1355.3,1260.3 L1355.5,1255.1 L1355.8,1250.2 L1356,1245.6 L1356.3,1241.3 L1356.5,1237.2 L1356.8,1233.3 L1357,1229.6 L1357.3,1226 L1357.5,1222.6 L1357.8,1219.3 L1358,1216.1 L1358.5,1210 L1359,1204.3 L1359.5,1198.8 L1360,1193.5 L1360.5,1188.5 L1361,1183.7 L1361.5,1179 L1362,1174.5 L1362.5,1170.1 L1363,1165.9 L1363.5,1161.9 L1364,1157.9 L1364.5,1154.1 L1365,1150.5 L1365.5,1146.9 L1366,1143.4 L1367.5,1133.7 L1369,1124.8 L1370.5,1116.7 L1372,1109.4 L1373.5,1102.7 L1375,1096.6 L1376.5,1091.1 L1378,1086 L1379.5,1081.4 L1381,1077.2 L1382.5,1073.4 L1384,1070 L1385.5,1066.8 L1387,1063.9 L1388.5,1061.3 L1390,1058.9 L1391.5,1056.7 L1393,1054.7 L1394.5,1052.9 L1396,1051.2 L1397.5,1049.7 L1399,1048.3 L1400.5,1047.1 L1402,1045.9 L1403.5,1044.9 L1405,1043.9 L1406.5,1043 L1408,1042.2 L1409.5,1041.5 L1411,1040.8 L1412.5,1040.2 L1414,1039.6 L1415.5,1039.1 L1417,1038.6 L1418.5,1038.1 L1420,1037.7 L1421.5,1037.3 L1423,1037 L1424,1036.8" stroke="#000000" stroke-width="5.4" fill="none" stroke-linejoin="round" stroke-linecap="butt"/><path d="M1384,1070 L1385.5,1066.8 L1387,1063.9 L1388.5,1061.3 L1390,1058.9 L1391.5,1056.7 L1393,1054.7 L1394.5,1052.9 L1396,1051.2 L1397.5,1049.7 L1399,1048.3 L1400.5,1047.1 L1402,1045.9 L1403.5,1044.9 L1405,1043.9 L1406.5,1043 L1408,1042.2 L1409.5,1041.5 L1411,1040.8 L1412.5,1040.2 L1414,1039.6 L1415.5,1039.1 L1417,1038.6 L1418.5,1038.1 L1420,1037.7 L1421.5,1037.3 L1423,1037 L1424,1036.8" stroke="#000000" stroke-width="6.0" fill="none" stroke-linejoin="round" stroke-linecap="round"/><path d="M1399,1048.3 L1400.5,1047.1 L1402,1045.9 L1403.5,1044.9 L1405,1043.9 L1406.5,1043 L1408,1042.2 L1409.5,1041.5 L1411,1040.8 L1412.5,1040.2 L1414,1039.6 L1415.5,1039.1 L1417,1038.6 L1418.5,1038.1 L1420,1037.7 L1421.5,1037.3 L1423,1037 L1424,1036.8" stroke="#000000" stroke-width="6.6" fill="none" stroke-linejoin="round" stroke-linecap="round"/><path d="M1412.5,1040.2 L1414,1039.6 L1415.5,1039.1 L1417,1038.6 L1418.5,1038.1 L1420,1037.7 L1421.5,1037.3 L1423,1037 L1424,1036.8" stroke="#000000" stroke-width="7.2" fill="none" stroke-linejoin="round" stroke-linecap="round"/>
<rect x="1352.4" y="983.1" width="22.3" height="7.8" fill="#000"/>
<path d="M1461.2,1033.5 L1461.8,1287.8" stroke="#000000" stroke-width="4.6" fill="none"/><ellipse cx="1460.2" cy="1034.1" rx="3.4" ry="2.8" fill="#000000"/><path d="M1461.5,1285.8 L1461.7,1277.8 L1462,1270.6 L1462.2,1264 L1462.5,1257.9 L1462.7,1252.4 L1463,1247.2 L1463.2,1242.4 L1463.5,1237.9 L1463.7,1233.7 L1464,1229.7 L1464.2,1226 L1464.5,1222.3 L1464.7,1218.9 L1465,1215.6 L1465.2,1212.4 L1465.7,1206.3 L1466.2,1200.7 L1466.7,1195.3 L1467.2,1190.1 L1467.7,1185.2 L1468.2,1180.5 L1468.7,1176 L1469.2,1171.6 L1469.7,1167.4 L1470.2,1163.3 L1470.7,1159.3 L1471.2,1155.5 L1471.7,1151.8 L1472.2,1148.2 L1472.7,1144.8 L1473.2,1141.4 L1474.7,1131.9 L1476.2,1123.3 L1477.7,1115.4 L1479.2,1108.2 L1480.7,1101.7 L1482.2,1095.8 L1483.7,1090.3 L1485.2,1085.4 L1486.7,1080.9 L1488.2,1076.8 L1489.7,1073 L1491.2,1069.6 L1492.7,1066.5 L1494.2,1063.7 L1495.7,1061.1 L1497.2,1058.7 L1498.7,1056.5 L1500.2,1054.6 L1501.7,1052.8 L1503.2,1051.1 L1504.7,1049.6 L1506.2,1048.2 L1507.7,1047 L1509.2,1045.8 L1510.7,1044.8 L1512.2,1043.8 L1513.7,1042.9 L1515.2,1042.1 L1516.7,1041.4 L1518.2,1040.7 L1519.7,1040.1 L1521.2,1039.5 L1522.7,1039 L1524.2,1038.5 L1525.7,1038 L1527.2,1037.6 L1528.7,1037.2 L1530.2,1036.9 L1531.2,1036.7" stroke="#000000" stroke-width="5.4" fill="none" stroke-linejoin="round" stroke-linecap="butt"/><path d="M1491.2,1069.6 L1492.7,1066.5 L1494.2,1063.7 L1495.7,1061.1 L1497.2,1058.7 L1498.7,1056.5 L1500.2,1054.6 L1501.7,1052.8 L1503.2,1051.1 L1504.7,1049.6 L1506.2,1048.2 L1507.7,1047 L1509.2,1045.8 L1510.7,1044.8 L1512.2,1043.8 L1513.7,1042.9 L1515.2,1042.1 L1516.7,1041.4 L1518.2,1040.7 L1519.7,1040.1 L1521.2,1039.5 L1522.7,1039 L1524.2,1038.5 L1525.7,1038 L1527.2,1037.6 L1528.7,1037.2 L1530.2,1036.9 L1531.2,1036.7" stroke="#000000" stroke-width="6.0" fill="none" stroke-linejoin="round" stroke-linecap="round"/><path d="M1506.2,1048.2 L1507.7,1047 L1509.2,1045.8 L1510.7,1044.8 L1512.2,1043.8 L1513.7,1042.9 L1515.2,1042.1 L1516.7,1041.4 L1518.2,1040.7 L1519.7,1040.1 L1521.2,1039.5 L1522.7,1039 L1524.2,1038.5 L1525.7,1038 L1527.2,1037.6 L1528.7,1037.2 L1530.2,1036.9 L1531.2,1036.7" stroke="#000000" stroke-width="6.6" fill="none" stroke-linejoin="round" stroke-linecap="round"/><path d="M1519.7,1040.1 L1521.2,1039.5 L1522.7,1039 L1524.2,1038.5 L1525.7,1038 L1527.2,1037.6 L1528.7,1037.2 L1530.2,1036.9 L1531.2,1036.7" stroke="#000000" stroke-width="7.2" fill="none" stroke-linejoin="round" stroke-linecap="round"/>
<rect x="1459.6" y="983.1" width="22.3" height="7.8" fill="#000"/>
<path d="M1568.5,1033.5 L1569.1,1287.8" stroke="#000000" stroke-width="4.6" fill="none"/><ellipse cx="1567.5" cy="1034.1" rx="3.4" ry="2.8" fill="#000000"/><path d="M1568.8,1285.8 L1569,1277 L1569.3,1269.1 L1569.5,1262 L1569.8,1255.6 L1570,1249.7 L1570.3,1244.2 L1570.5,1239.2 L1570.8,1234.6 L1571,1230.2 L1571.3,1226.1 L1571.5,1222.3 L1571.8,1218.6 L1572,1215.1 L1572.3,1211.8 L1572.5,1208.7 L1573,1202.6 L1573.5,1197 L1574,1191.7 L1574.5,1186.7 L1575,1181.9 L1575.5,1177.3 L1576,1172.9 L1576.5,1168.6 L1577,1164.5 L1577.5,1160.6 L1578,1156.7 L1578.5,1153 L1579,1149.4 L1579.5,1146 L1580,1142.6 L1580.5,1139.3 L1582,1130.1 L1583.5,1121.7 L1585,1114 L1586.5,1107 L1588,1100.7 L1589.5,1094.9 L1591,1089.6 L1592.5,1084.7 L1594,1080.3 L1595.5,1076.3 L1597,1072.6 L1598.5,1069.2 L1600,1066.2 L1601.5,1063.4 L1603,1060.8 L1604.5,1058.5 L1606,1056.3 L1607.5,1054.4 L1609,1052.6 L1610.5,1051 L1612,1049.5 L1613.5,1048.1 L1615,1046.9 L1616.5,1045.7 L1618,1044.7 L1619.5,1043.7 L1621,1042.8 L1622.5,1042 L1624,1041.3 L1625.5,1040.6 L1627,1040 L1628.5,1039.4 L1630,1038.9 L1631.5,1038.4 L1633,1037.9 L1634.5,1037.5 L1636,1037.1 L1637.5,1036.8 L1638.5,1036.6" stroke="#000000" stroke-width="5.4" fill="none" stroke-linejoin="round" stroke-linecap="butt"/><path d="M1598.5,1069.2 L1600,1066.2 L1601.5,1063.4 L1603,1060.8 L1604.5,1058.5 L1606,1056.3 L1607.5,1054.4 L1609,1052.6 L1610.5,1051 L1612,1049.5 L1613.5,1048.1 L1615,1046.9 L1616.5,1045.7 L1618,1044.7 L1619.5,1043.7 L1621,1042.8 L1622.5,1042 L1624,1041.3 L1625.5,1040.6 L1627,1040 L1628.5,1039.4 L1630,1038.9 L1631.5,1038.4 L1633,1037.9 L1634.5,1037.5 L1636,1037.1 L1637.5,1036.8 L1638.5,1036.6" stroke="#000000" stroke-width="6.0" fill="none" stroke-linejoin="round" stroke-linecap="round"/><path d="M1613.5,1048.1 L1615,1046.9 L1616.5,1045.7 L1618,1044.7 L1619.5,1043.7 L1621,1042.8 L1622.5,1042 L1624,1041.3 L1625.5,1040.6 L1627,1040 L1628.5,1039.4 L1630,1038.9 L1631.5,1038.4 L1633,1037.9 L1634.5,1037.5 L1636,1037.1 L1637.5,1036.8 L1638.5,1036.6" stroke="#000000" stroke-width="6.6" fill="none" stroke-linejoin="round" stroke-linecap="round"/><path d="M1627,1040 L1628.5,1039.4 L1630,1038.9 L1631.5,1038.4 L1633,1037.9 L1634.5,1037.5 L1636,1037.1 L1637.5,1036.8 L1638.5,1036.6" stroke="#000000" stroke-width="7.2" fill="none" stroke-linejoin="round" stroke-linecap="round"/>
<rect x="1566.9" y="983.1" width="22.3" height="7.8" fill="#000"/>
<path d="M1675.7,1033.5 L1676.3,1285.7" stroke="#000000" stroke-width="4.6" fill="none"/><ellipse cx="1674.7" cy="1034.1" rx="3.4" ry="2.8" fill="#000000"/><path d="M1676,1283.7 L1676.2,1274.2 L1676.5,1265.8 L1676.7,1258.2 L1677,1251.4 L1677.2,1245.2 L1677.5,1239.5 L1677.7,1234.3 L1678,1229.5 L1678.2,1225.1 L1678.5,1220.9 L1678.7,1217 L1679,1213.4 L1679.2,1209.9 L1679.5,1206.6 L1679.7,1203.4 L1680.2,1197.5 L1680.7,1192 L1681.2,1186.9 L1681.7,1182 L1682.2,1177.4 L1682.7,1172.9 L1683.2,1168.7 L1683.7,1164.6 L1684.2,1160.6 L1684.7,1156.8 L1685.2,1153.1 L1685.7,1149.5 L1686.2,1146.1 L1686.7,1142.7 L1687.2,1139.5 L1687.7,1136.3 L1689.2,1127.5 L1690.7,1119.4 L1692.2,1112 L1693.7,1105.2 L1695.2,1099.1 L1696.7,1093.4 L1698.2,1088.3 L1699.7,1083.6 L1701.2,1079.3 L1702.7,1075.4 L1704.2,1071.8 L1705.7,1068.5 L1707.2,1065.6 L1708.7,1062.8 L1710.2,1060.3 L1711.7,1058.1 L1713.2,1056 L1714.7,1054.1 L1716.2,1052.3 L1717.7,1050.7 L1719.2,1049.2 L1720.7,1047.9 L1722.2,1046.7 L1723.7,1045.5 L1725.2,1044.5 L1726.7,1043.6 L1728.2,1042.7 L1729.7,1041.9 L1731.2,1041.2 L1732.7,1040.5 L1734.2,1039.9 L1735.7,1039.3 L1737.2,1038.8 L1738.7,1038.3 L1740.2,1037.8 L1741.7,1037.4 L1743.2,1037 L1744.7,1036.7 L1745.7,1036.4" stroke="#000000" stroke-width="5.4" fill="none" stroke-linejoin="round" stroke-linecap="butt"/><path d="M1705.7,1068.5 L1707.2,1065.6 L1708.7,1062.8 L1710.2,1060.3 L1711.7,1058.1 L1713.2,1056 L1714.7,1054.1 L1716.2,1052.3 L1717.7,1050.7 L1719.2,1049.2 L1720.7,1047.9 L1722.2,1046.7 L1723.7,1045.5 L1725.2,1044.5 L1726.7,1043.6 L1728.2,1042.7 L1729.7,1041.9 L1731.2,1041.2 L1732.7,1040.5 L1734.2,1039.9 L1735.7,1039.3 L1737.2,1038.8 L1738.7,1038.3 L1740.2,1037.8 L1741.7,1037.4 L1743.2,1037 L1744.7,1036.7 L1745.7,1036.4" stroke="#000000" stroke-width="6.0" fill="none" stroke-linejoin="round" stroke-linecap="round"/><path d="M1720.7,1047.9 L1722.2,1046.7 L1723.7,1045.5 L1725.2,1044.5 L1726.7,1043.6 L1728.2,1042.7 L1729.7,1041.9 L1731.2,1041.2 L1732.7,1040.5 L1734.2,1039.9 L1735.7,1039.3 L1737.2,1038.8 L1738.7,1038.3 L1740.2,1037.8 L1741.7,1037.4 L1743.2,1037 L1744.7,1036.7 L1745.7,1036.4" stroke="#000000" stroke-width="6.6" fill="none" stroke-linejoin="round" stroke-linecap="round"/><path d="M1734.2,1039.9 L1735.7,1039.3 L1737.2,1038.8 L1738.7,1038.3 L1740.2,1037.8 L1741.7,1037.4 L1743.2,1037 L1744.7,1036.7 L1745.7,1036.4" stroke="#000000" stroke-width="7.2" fill="none" stroke-linejoin="round" stroke-linecap="round"/>
<rect x="1674.1" y="983.1" width="22.3" height="7.8" fill="#000"/>
<path d="M1782.6,1033.5 L1783.2,1287.8" stroke="#000000" stroke-width="4.6" fill="none"/><ellipse cx="1781.6" cy="1034.1" rx="3.4" ry="2.8" fill="#000000"/><path d="M1782.9,1285.8 L1783.1,1275.5 L1783.4,1266.3 L1783.6,1258.1 L1783.9,1250.8 L1784.1,1244.2 L1784.4,1238.2 L1784.6,1232.8 L1784.9,1227.7 L1785.1,1223.1 L1785.4,1218.8 L1785.6,1214.8 L1785.9,1211.1 L1786.1,1207.6 L1786.4,1204.2 L1786.6,1201.1 L1787.1,1195.1 L1787.6,1189.7 L1788.1,1184.5 L1788.6,1179.7 L1789.1,1175.2 L1789.6,1170.8 L1790.1,1166.6 L1790.6,1162.6 L1791.1,1158.7 L1791.6,1155 L1792.1,1151.4 L1792.6,1147.9 L1793.1,1144.5 L1793.6,1141.2 L1794.1,1138.1 L1794.6,1135 L1796.1,1126.3 L1797.6,1118.4 L1799.1,1111.1 L1800.6,1104.5 L1802.1,1098.4 L1803.6,1092.9 L1805.1,1087.9 L1806.6,1083.2 L1808.1,1079 L1809.6,1075.1 L1811.1,1071.6 L1812.6,1068.4 L1814.1,1065.4 L1815.6,1062.7 L1817.1,1060.2 L1818.6,1058 L1820.1,1055.9 L1821.6,1054 L1823.1,1052.2 L1824.6,1050.7 L1826.1,1049.2 L1827.6,1047.9 L1829.1,1046.6 L1830.6,1045.5 L1832.1,1044.5 L1833.6,1043.5 L1835.1,1042.6 L1836.6,1041.8 L1838.1,1041.1 L1839.6,1040.4 L1841.1,1039.8 L1842.6,1039.2 L1844.1,1038.7 L1845.6,1038.2 L1847.1,1037.7 L1848.6,1037.3 L1850.1,1036.9 L1851.6,1036.5 L1852.6,1036.3" stroke="#000000" stroke-width="5.4" fill="none" stroke-linejoin="round" stroke-linecap="butt"/><path d="M1812.6,1068.4 L1814.1,1065.4 L1815.6,1062.7 L1817.1,1060.2 L1818.6,1058 L1820.1,1055.9 L1821.6,1054 L1823.1,1052.2 L1824.6,1050.7 L1826.1,1049.2 L1827.6,1047.9 L1829.1,1046.6 L1830.6,1045.5 L1832.1,1044.5 L1833.6,1043.5 L1835.1,1042.6 L1836.6,1041.8 L1838.1,1041.1 L1839.6,1040.4 L1841.1,1039.8 L1842.6,1039.2 L1844.1,1038.7 L1845.6,1038.2 L1847.1,1037.7 L1848.6,1037.3 L1850.1,1036.9 L1851.6,1036.5 L1852.6,1036.3" stroke="#000000" stroke-width="6.0" fill="none" stroke-linejoin="round" stroke-linecap="round"/><path d="M1827.6,1047.9 L1829.1,1046.6 L1830.6,1045.5 L1832.1,1044.5 L1833.6,1043.5 L1835.1,1042.6 L1836.6,1041.8 L1838.1,1041.1 L1839.6,1040.4 L1841.1,1039.8 L1842.6,1039.2 L1844.1,1038.7 L1845.6,1038.2 L1847.1,1037.7 L1848.6,1037.3 L1850.1,1036.9 L1851.6,1036.5 L1852.6,1036.3" stroke="#000000" stroke-width="6.6" fill="none" stroke-linejoin="round" stroke-linecap="round"/><path d="M1841.1,1039.8 L1842.6,1039.2 L1844.1,1038.7 L1845.6,1038.2 L1847.1,1037.7 L1848.6,1037.3 L1850.1,1036.9 L1851.6,1036.5 L1852.6,1036.3" stroke="#000000" stroke-width="7.2" fill="none" stroke-linejoin="round" stroke-linecap="round"/>
<rect x="1781" y="983.1" width="22.3" height="7.8" fill="#000"/>
<path d="M1890.2,1033.5 L1890.8,1282.4" stroke="#000000" stroke-width="4.6" fill="none"/><ellipse cx="1889.2" cy="1034.1" rx="3.4" ry="2.8" fill="#000000"/><path d="M1890.5,1280.4 L1890.7,1269.5 L1891,1259.9 L1891.2,1251.4 L1891.5,1243.8 L1891.7,1237 L1892,1230.9 L1892.2,1225.3 L1892.5,1220.2 L1892.7,1215.6 L1893,1211.3 L1893.2,1207.3 L1893.5,1203.6 L1893.7,1200.1 L1894,1196.8 L1894.2,1193.7 L1894.7,1188 L1895.2,1182.7 L1895.7,1177.8 L1896.2,1173.1 L1896.7,1168.8 L1897.2,1164.6 L1897.7,1160.7 L1898.2,1156.8 L1898.7,1153.2 L1899.2,1149.6 L1899.7,1146.2 L1900.2,1142.9 L1900.7,1139.7 L1901.2,1136.6 L1901.7,1133.6 L1902.2,1130.7 L1903.7,1122.4 L1905.2,1114.9 L1906.7,1108 L1908.2,1101.7 L1909.7,1095.9 L1911.2,1090.7 L1912.7,1085.8 L1914.2,1081.4 L1915.7,1077.4 L1917.2,1073.7 L1918.7,1070.3 L1920.2,1067.2 L1921.7,1064.4 L1923.2,1061.8 L1924.7,1059.4 L1926.2,1057.2 L1927.7,1055.2 L1929.2,1053.4 L1930.7,1051.7 L1932.2,1050.2 L1933.7,1048.7 L1935.2,1047.4 L1936.7,1046.3 L1938.2,1045.2 L1939.7,1044.2 L1941.2,1043.2 L1942.7,1042.4 L1944.2,1041.6 L1945.7,1040.9 L1947.2,1040.2 L1948.7,1039.6 L1950.2,1039 L1951.7,1038.5 L1953.2,1038 L1954.7,1037.6 L1956.2,1037.2 L1957.7,1036.8 L1959.2,1036.4 L1960.2,1036.2" stroke="#000000" stroke-width="5.4" fill="none" stroke-linejoin="round" stroke-linecap="butt"/><path d="M1920.2,1067.2 L1921.7,1064.4 L1923.2,1061.8 L1924.7,1059.4 L1926.2,1057.2 L1927.7,1055.2 L1929.2,1053.4 L1930.7,1051.7 L1932.2,1050.2 L1933.7,1048.7 L1935.2,1047.4 L1936.7,1046.3 L1938.2,1045.2 L1939.7,1044.2 L1941.2,1043.2 L1942.7,1042.4 L1944.2,1041.6 L1945.7,1040.9 L1947.2,1040.2 L1948.7,1039.6 L1950.2,1039 L1951.7,1038.5 L1953.2,1038 L1954.7,1037.6 L1956.2,1037.2 L1957.7,1036.8 L1959.2,1036.4 L1960.2,1036.2" stroke="#000000" stroke-width="6.0" fill="none" stroke-linejoin="round" stroke-linecap="round"/><path d="M1935.2,1047.4 L1936.7,1046.3 L1938.2,1045.2 L1939.7,1044.2 L1941.2,1043.2 L1942.7,1042.4 L1944.2,1041.6 L1945.7,1040.9 L1947.2,1040.2 L1948.7,1039.6 L1950.2,1039 L1951.7,1038.5 L1953.2,1038 L1954.7,1037.6 L1956.2,1037.2 L1957.7,1036.8 L1959.2,1036.4 L1960.2,1036.2" stroke="#000000" stroke-width="6.6" fill="none" stroke-linejoin="round" stroke-linecap="round"/><path d="M1948.7,1039.6 L1950.2,1039 L1951.7,1038.5 L1953.2,1038 L1954.7,1037.6 L1956.2,1037.2 L1957.7,1036.8 L1959.2,1036.4 L1960.2,1036.2" stroke="#000000" stroke-width="7.2" fill="none" stroke-linejoin="round" stroke-linecap="round"/>
<rect x="1888.6" y="983.1" width="22.3" height="7.8" fill="#000"/>
<path d="M1997.5,1033.5 L1998.1,1283.6" stroke="#000000" stroke-width="4.6" fill="none"/><ellipse cx="1996.5" cy="1034.1" rx="3.4" ry="2.8" fill="#000000"/><path d="M1997.8,1281.6 L1998,1269.9 L1998.3,1259.6 L1998.5,1250.5 L1998.8,1242.5 L1999,1235.3 L1999.3,1228.8 L1999.5,1223 L1999.8,1217.7 L2000,1212.9 L2000.3,1208.5 L2000.5,1204.4 L2000.8,1200.6 L2001,1197.1 L2001.3,1193.8 L2001.5,1190.7 L2002,1184.9 L2002.5,1179.7 L2003,1174.8 L2003.5,1170.3 L2004,1166 L2004.5,1162 L2005,1158.1 L2005.5,1154.4 L2006,1150.8 L2006.5,1147.3 L2007,1144 L2007.5,1140.8 L2008,1137.7 L2008.5,1134.6 L2009,1131.7 L2009.5,1128.9 L2011,1120.8 L2012.5,1113.5 L2014,1106.8 L2015.5,1100.6 L2017,1095 L2018.5,1089.8 L2020,1085.1 L2021.5,1080.8 L2023,1076.8 L2024.5,1073.2 L2026,1069.9 L2027.5,1066.8 L2029,1064 L2030.5,1061.5 L2032,1059.1 L2033.5,1057 L2035,1055 L2036.5,1053.2 L2038,1051.5 L2039.5,1050 L2041,1048.6 L2042.5,1047.3 L2044,1046.1 L2045.5,1045.1 L2047,1044.1 L2048.6,1043.1 L2050.1,1042.3 L2051.6,1041.5 L2053.1,1040.8 L2054.6,1040.1 L2056.1,1039.5 L2057.6,1038.9 L2059.1,1038.4 L2060.6,1037.9 L2062.1,1037.5 L2063.6,1037.1 L2065.1,1036.7 L2066.6,1036.3 L2067.5,1036.1" stroke="#000000" stroke-width="5.4" fill="none" stroke-linejoin="round" stroke-linecap="butt"/><path d="M2027.5,1066.8 L2029,1064 L2030.5,1061.5 L2032,1059.1 L2033.5,1057 L2035,1055 L2036.5,1053.2 L2038,1051.5 L2039.5,1050 L2041,1048.6 L2042.5,1047.3 L2044,1046.1 L2045.5,1045.1 L2047,1044.1 L2048.6,1043.1 L2050.1,1042.3 L2051.6,1041.5 L2053.1,1040.8 L2054.6,1040.1 L2056.1,1039.5 L2057.6,1038.9 L2059.1,1038.4 L2060.6,1037.9 L2062.1,1037.5 L2063.6,1037.1 L2065.1,1036.7 L2066.6,1036.3 L2067.5,1036.1" stroke="#000000" stroke-width="6.0" fill="none" stroke-linejoin="round" stroke-linecap="round"/><path d="M2042.5,1047.3 L2044,1046.1 L2045.5,1045.1 L2047,1044.1 L2048.6,1043.1 L2050.1,1042.3 L2051.6,1041.5 L2053.1,1040.8 L2054.6,1040.1 L2056.1,1039.5 L2057.6,1038.9 L2059.1,1038.4 L2060.6,1037.9 L2062.1,1037.5 L2063.6,1037.1 L2065.1,1036.7 L2066.6,1036.3 L2067.5,1036.1" stroke="#000000" stroke-width="6.6" fill="none" stroke-linejoin="round" stroke-linecap="round"/><path d="M2056.1,1039.5 L2057.6,1038.9 L2059.1,1038.4 L2060.6,1037.9 L2062.1,1037.5 L2063.6,1037.1 L2065.1,1036.7 L2066.6,1036.3 L2067.5,1036.1" stroke="#000000" stroke-width="7.2" fill="none" stroke-linejoin="round" stroke-linecap="round"/>
<rect x="1995.9" y="983.1" width="22.3" height="7.8" fill="#000"/>
<path d="M2100.6,1033.5 L2101.2,1286.1" stroke="#000000" stroke-width="4.6" fill="none"/><ellipse cx="2099.6" cy="1034.1" rx="3.4" ry="2.8" fill="#000000"/><path d="M2100.9,1284.1 L2101.2,1271.5 L2101.4,1260.5 L2101.7,1250.8 L2101.9,1242.2 L2102.2,1234.6 L2102.4,1227.8 L2102.7,1221.6 L2102.9,1216.1 L2103.2,1211.1 L2103.4,1206.6 L2103.7,1202.4 L2103.9,1198.5 L2104.2,1194.9 L2104.4,1191.5 L2104.7,1188.4 L2105.2,1182.6 L2105.7,1177.4 L2106.2,1172.5 L2106.7,1168.1 L2107.2,1163.8 L2107.7,1159.9 L2108.2,1156 L2108.7,1152.4 L2109.2,1148.9 L2109.7,1145.5 L2110.2,1142.3 L2110.7,1139.1 L2111.2,1136.1 L2111.7,1133.1 L2112.2,1130.3 L2112.7,1127.5 L2114.2,1119.6 L2115.7,1112.5 L2117.2,1105.9 L2118.7,1099.9 L2120.2,1094.3 L2121.7,1089.3 L2123.2,1084.6 L2124.7,1080.4 L2126.2,1076.5 L2127.7,1072.9 L2129.2,1069.6 L2130.7,1066.6 L2132.2,1063.8 L2133.7,1061.3 L2135.2,1059 L2136.7,1056.9 L2138.2,1054.9 L2139.7,1053.1 L2141.2,1051.4 L2142.7,1049.9 L2144.2,1048.5 L2145.7,1047.2 L2147.2,1046.1 L2148.7,1045 L2150.2,1044 L2151.7,1043.1 L2153.2,1042.2 L2154.7,1041.4 L2156.2,1040.7 L2157.7,1040 L2159.2,1039.4 L2160.7,1038.9 L2162.2,1038.3 L2163.7,1037.8 L2165.2,1037.4 L2166.7,1037 L2168.2,1036.6 L2169.7,1036.2 L2170.6,1036" stroke="#000000" stroke-width="5.4" fill="none" stroke-linejoin="round" stroke-linecap="butt"/><path d="M2130.7,1066.6 L2132.2,1063.8 L2133.7,1061.3 L2135.2,1059 L2136.7,1056.9 L2138.2,1054.9 L2139.7,1053.1 L2141.2,1051.4 L2142.7,1049.9 L2144.2,1048.5 L2145.7,1047.2 L2147.2,1046.1 L2148.7,1045 L2150.2,1044 L2151.7,1043.1 L2153.2,1042.2 L2154.7,1041.4 L2156.2,1040.7 L2157.7,1040 L2159.2,1039.4 L2160.7,1038.9 L2162.2,1038.3 L2163.7,1037.8 L2165.2,1037.4 L2166.7,1037 L2168.2,1036.6 L2169.7,1036.2 L2170.6,1036" stroke="#000000" stroke-width="6.0" fill="none" stroke-linejoin="round" stroke-linecap="round"/><path d="M2145.7,1047.2 L2147.2,1046.1 L2148.7,1045 L2150.2,1044 L2151.7,1043.1 L2153.2,1042.2 L2154.7,1041.4 L2156.2,1040.7 L2157.7,1040 L2159.2,1039.4 L2160.7,1038.9 L2162.2,1038.3 L2163.7,1037.8 L2165.2,1037.4 L2166.7,1037 L2168.2,1036.6 L2169.7,1036.2 L2170.6,1036" stroke="#000000" stroke-width="6.6" fill="none" stroke-linejoin="round" stroke-linecap="round"/><path d="M2159.2,1039.4 L2160.7,1038.9 L2162.2,1038.3 L2163.7,1037.8 L2165.2,1037.4 L2166.7,1037 L2168.2,1036.6 L2169.7,1036.2 L2170.6,1036" stroke="#000000" stroke-width="7.2" fill="none" stroke-linejoin="round" stroke-linecap="round"/>
<rect x="2099" y="983.1" width="22.3" height="7.8" fill="#000"/>
<path d="M2208.6,570.9 L2208.6,670.9 L2241.4,670.9" stroke="#000" stroke-width="5.3" fill="none" stroke-linejoin="miter"/>
<text font-family="Liberation Sans, sans-serif" font-size="42.3" fill="#000" transform="translate(2183.8,664) rotate(-90) scale(1,1.041)">1 nA</text>
<text font-family="Liberation Sans, sans-serif" font-size="42.5" fill="#000" transform="translate(2174.3,724.4) scale(1,1.041)">5 sec</text>
<path d="M2208.6,1222.9 L2208.6,1322.9 L2241.4,1322.9" stroke="#000" stroke-width="5.3" fill="none" stroke-linejoin="miter"/>
<text font-family="Liberation Sans, sans-serif" font-size="42.3" fill="#000" transform="translate(2183.8,1316) rotate(-90) scale(1,1.041)">1 nA</text>
<text font-family="Liberation Sans, sans-serif" font-size="42.5" fill="#000" transform="translate(2174.3,1376.4) scale(1,1.041)">5 sec</text>
<path d="M2501.8,180.2 L2501.8,604.4" stroke="#000" stroke-width="4.8"/>
<path d="M2501.8,640 L2501.8,747.5 L2518.2,747.5" stroke="#000" stroke-width="4.8" fill="none"/>
<path d="M2501.8,239.2 L2518.2,239.2" stroke="#000" stroke-width="4.8"/>
<path d="M2501.8,353.4 L2518.2,353.4" stroke="#000" stroke-width="4.8"/>
<path d="M2501.8,467 L2518.2,467" stroke="#000" stroke-width="4.8"/>
<path d="M2501.8,580.1 L2518.2,580.1" stroke="#000" stroke-width="4.8"/>
<path d="M2501.8,655.1 L2518.2,655.1" stroke="#000" stroke-width="4.8"/>
<path d="M2501.8,747.5 L2518.2,747.5" stroke="#000" stroke-width="4.8"/>
<path d="M2490,594.5 L2513.5,617.5 M2490,628 L2515.5,650" stroke="#000" stroke-width="5.2"/>
<text font-family="Liberation Sans, sans-serif" font-size="42.5" fill="#000" transform="translate(2493.3,254) scale(1,1.041)" text-anchor="end">1.0</text>
<text font-family="Liberation Sans, sans-serif" font-size="42.5" fill="#000" transform="translate(2493.3,368.2) scale(1,1.041)" text-anchor="end">0.9</text>
<text font-family="Liberation Sans, sans-serif" font-size="42.5" fill="#000" transform="translate(2493.3,481.8) scale(1,1.041)" text-anchor="end">0.8</text>
<text font-family="Liberation Sans, sans-serif" font-size="42.5" fill="#000" transform="translate(2493.3,594.9) scale(1,1.041)" text-anchor="end">0.7</text>
<text font-family="Liberation Sans, sans-serif" font-size="42.5" fill="#000" transform="translate(2493.3,669.9) scale(1,1.041)" text-anchor="end">0.6</text>
<text font-family="Liberation Sans, sans-serif" font-size="42.5" fill="#000" transform="translate(2493.3,762.3) scale(1,1.041)" text-anchor="end">0.0</text>
<text font-family="Liberation Sans, sans-serif" font-size="51.2" fill="#000" transform="translate(2408.8,465.5) rotate(-90) scale(1,1.041)" text-anchor="middle">Normalized peak amplitude</text>
<path d="M2551.2,800.4 L3429.9,800.4" stroke="#000" stroke-width="4.9"/>
<path d="M2553.9,784.4 L2553.9,800" stroke="#000" stroke-width="5"/>
<path d="M2641.2,791.3 L2641.2,800" stroke="#000" stroke-width="5"/>
<path d="M2728.6,784.4 L2728.6,800" stroke="#000" stroke-width="5"/>
<path d="M2815.9,791.3 L2815.9,800" stroke="#000" stroke-width="5"/>
<path d="M2903.2,784.4 L2903.2,800" stroke="#000" stroke-width="5"/>
<path d="M2990.6,791.3 L2990.6,800" stroke="#000" stroke-width="5"/>
<path d="M3077.9,784.4 L3077.9,800" stroke="#000" stroke-width="5"/>
<path d="M3165.2,791.3 L3165.2,800" stroke="#000" stroke-width="5"/>
<path d="M3252.5,784.4 L3252.5,800" stroke="#000" stroke-width="5"/>
<path d="M3339.9,791.3 L3339.9,800" stroke="#000" stroke-width="5"/>
<path d="M3427.2,784.4 L3427.2,800" stroke="#000" stroke-width="5"/>
<text font-family="Liberation Sans, sans-serif" font-size="43.5" fill="#000" transform="translate(2553.9,849.8) scale(1,1.041)" text-anchor="middle">0</text>
<text font-family="Liberation Sans, sans-serif" font-size="43.5" fill="#000" transform="translate(2728.6,849.8) scale(1,1.041)" text-anchor="middle">2</text>
<text font-family="Liberation Sans, sans-serif" font-size="43.5" fill="#000" transform="translate(2903.2,849.8) scale(1,1.041)" text-anchor="middle">4</text>
<text font-family="Liberation Sans, sans-serif" font-size="43.5" fill="#000" transform="translate(3077.9,849.8) scale(1,1.041)" text-anchor="middle">6</text>
<text font-family="Liberation Sans, sans-serif" font-size="43.5" fill="#000" transform="translate(3252.5,849.8) scale(1,1.041)" text-anchor="middle">8</text>
<text font-family="Liberation Sans, sans-serif" font-size="43.5" fill="#000" transform="translate(3427.2,849.8) scale(1,1.041)" text-anchor="middle">10</text>
<text font-family="Liberation Sans, sans-serif" font-size="50.8" fill="#000" transform="translate(2990.7,921.2) scale(1,1.041)" text-anchor="middle">Time (min)</text>
<path d="M2553.9,239.6 L2597.6,272 L2641.2,288.4 L2684.9,298.2 L2728.6,309.8 L2772.2,408.6 L2815.9,403.6 L2859.6,405.4 L2903.2,411 L2946.9,425.9 L2990.6,385.3 L3034.2,391.2 L3077.9,395.6 L3121.5,402.1 L3165.2,410.4 L3208.9,415.9 L3252.5,421.1 L3296.2,429.8 L3339.9,441.5 L3383.5,445.2" stroke="#000" stroke-width="2.6" fill="none" stroke-linejoin="round"/>
<path d="M2859.6,395 L2859.6,416.4 M2849.3,396.2 L2869.9,396.2 M2849.3,415.2 L2869.9,415.2" stroke="#000" stroke-width="2.6"/>
<path d="M2903.2,399.7 L2903.2,421.5 M2892.9,400.9 L2913.5,400.9 M2892.9,420.3 L2913.5,420.3" stroke="#000" stroke-width="2.6"/>
<path d="M2990.6,375.4 L2990.6,396.4 M2980.2,376.6 L3000.9,376.6 M2980.2,395.2 L3000.9,395.2" stroke="#000" stroke-width="2.6"/>
<path d="M3034.2,381.1 L3034.2,402.4 M3023.9,382.3 L3044.5,382.3 M3023.9,401.2 L3044.5,401.2" stroke="#000" stroke-width="2.6"/>
<path d="M3165.2,399.3 L3165.2,422.4 M3154.9,400.5 L3175.5,400.5 M3154.9,421.2 L3175.5,421.2" stroke="#000" stroke-width="2.6"/>
<path d="M3208.9,403.2 L3208.9,428.6 M3198.6,404.4 L3219.2,404.4 M3198.6,427.4 L3219.2,427.4" stroke="#000" stroke-width="2.6"/>
<path d="M3252.5,408.8 L3252.5,434.5 M3242.2,410 L3262.8,410 M3242.2,433.3 L3262.8,433.3" stroke="#000" stroke-width="2.6"/>
<path d="M3296.2,417.4 L3296.2,442.8 M3285.9,418.6 L3306.5,418.6 M3285.9,441.6 L3306.5,441.6" stroke="#000" stroke-width="2.6"/>
<path d="M3339.9,427.6 L3339.9,455.5 M3329.6,428.8 L3350.2,428.8 M3329.6,454.3 L3350.2,454.3" stroke="#000" stroke-width="2.6"/>
<path d="M3383.5,429.5 L3383.5,460.9 M3373.2,430.7 L3393.8,430.7 M3373.2,459.7 L3393.8,459.7" stroke="#000" stroke-width="2.6"/>
<circle cx="2553.9" cy="239.6" r="10.5" fill="#000"/>
<circle cx="2597.6" cy="272" r="10.5" fill="#000"/>
<circle cx="2641.2" cy="288.4" r="10.5" fill="#000"/>
<circle cx="2684.9" cy="298.2" r="10.5" fill="#000"/>
<circle cx="2728.6" cy="309.8" r="10.5" fill="#000"/>
<circle cx="2772.2" cy="408.6" r="10.5" fill="#000"/>
<circle cx="2815.9" cy="403.6" r="10.5" fill="#000"/>
<circle cx="2859.6" cy="405.4" r="10.5" fill="#000"/>
<circle cx="2903.2" cy="411" r="10.5" fill="#000"/>
<circle cx="2946.9" cy="425.9" r="10.5" fill="#000"/>
<circle cx="2990.6" cy="385.3" r="10.5" fill="#000"/>
<circle cx="3034.2" cy="391.2" r="10.5" fill="#000"/>
<circle cx="3077.9" cy="395.6" r="10.5" fill="#000"/>
<circle cx="3121.5" cy="402.1" r="10.5" fill="#000"/>
<circle cx="3165.2" cy="410.4" r="10.5" fill="#000"/>
<circle cx="3208.9" cy="415.9" r="10.5" fill="#000"/>
<circle cx="3252.5" cy="421.1" r="10.5" fill="#000"/>
<circle cx="3296.2" cy="429.8" r="10.5" fill="#000"/>
<circle cx="3339.9" cy="441.5" r="10.5" fill="#000"/>
<circle cx="3383.5" cy="445.2" r="10.5" fill="#000"/>
<path d="M2553.9,239.6 L2597.6,270.5 L2641.2,279.5 L2684.9,283 L2728.6,290.2 L2772.2,305.7 L2815.9,310.7 L2859.6,318.8 L2903.2,324.2 L2946.9,330.9 L2990.6,334.4 L3034.2,337.5 L3077.9,344.3 L3121.5,350.5 L3165.2,360.7 L3208.9,366.1 L3252.5,374.2 L3296.2,381.6 L3339.9,387.8 L3383.5,384.1" stroke="#000" stroke-width="2.6" fill="none" stroke-linejoin="round"/>
<path d="M2815.9,300 L2815.9,322.3 M2805.6,301.2 L2826.2,301.2 M2805.6,321.1 L2826.2,321.1" stroke="#000" stroke-width="2.6"/>
<path d="M2859.6,305.7 L2859.6,331.2 M2849.3,306.9 L2869.9,306.9 M2849.3,330.1 L2869.9,330.1" stroke="#000" stroke-width="2.6"/>
<path d="M2903.2,310.3 L2903.2,338.2 M2892.9,311.5 L2913.5,311.5 M2892.9,337 L2913.5,337" stroke="#000" stroke-width="2.6"/>
<path d="M2946.9,314.2 L2946.9,348.2 M2936.6,315.4 L2957.2,315.4 M2936.6,347 L2957.2,347" stroke="#000" stroke-width="2.6"/>
<path d="M2990.6,313 L2990.6,355.6 M2980.2,314.2 L3000.9,314.2 M2980.2,354.4 L3000.9,354.4" stroke="#000" stroke-width="2.6"/>
<path d="M3034.2,310.9 L3034.2,364.3 M3023.9,312.1 L3044.5,312.1 M3023.9,363.1 L3044.5,363.1" stroke="#000" stroke-width="2.6"/>
<path d="M3077.9,315.2 L3077.9,373.6 M3067.6,316.4 L3088.2,316.4 M3067.6,372.4 L3088.2,372.4" stroke="#000" stroke-width="2.6"/>
<path d="M3121.5,321.7 L3121.5,379.3 M3111.2,322.9 L3131.8,322.9 M3111.2,378.1 L3131.8,378.1" stroke="#000" stroke-width="2.6"/>
<path d="M3165.2,330.7 L3165.2,391.5 M3154.9,331.9 L3175.5,331.9 M3154.9,390.3 L3175.5,390.3" stroke="#000" stroke-width="2.6"/>
<path d="M3208.9,335.8 L3208.9,396.4 M3198.6,337 L3219.2,337 M3198.6,395.2 L3219.2,395.2" stroke="#000" stroke-width="2.6"/>
<path d="M3252.5,344.7 L3252.5,404.5 M3242.2,345.9 L3262.8,345.9 M3242.2,403.3 L3262.8,403.3" stroke="#000" stroke-width="2.6"/>
<path d="M3296.2,351.9 L3296.2,411.2 M3285.9,353.1 L3306.5,353.1 M3285.9,410 L3306.5,410" stroke="#000" stroke-width="2.6"/>
<path d="M3339.9,357.5 L3339.9,418.7 M3329.6,358.7 L3350.2,358.7 M3329.6,417.5 L3350.2,417.5" stroke="#000" stroke-width="2.6"/>
<path d="M3383.5,356.9 L3383.5,411.2 M3373.2,358.1 L3393.8,358.1 M3373.2,410 L3393.8,410" stroke="#000" stroke-width="2.6"/>
<circle cx="2553.9" cy="239.6" r="10.1" fill="#fff" stroke="#000" stroke-width="2.4"/>
<circle cx="2597.6" cy="270.5" r="10.1" fill="#fff" stroke="#000" stroke-width="2.4"/>
<circle cx="2641.2" cy="279.5" r="10.1" fill="#fff" stroke="#000" stroke-width="2.4"/>
<circle cx="2684.9" cy="283" r="10.1" fill="#fff" stroke="#000" stroke-width="2.4"/>
<circle cx="2728.6" cy="290.2" r="10.1" fill="#fff" stroke="#000" stroke-width="2.4"/>
<circle cx="2772.2" cy="305.7" r="10.1" fill="#fff" stroke="#000" stroke-width="2.4"/>
<circle cx="2815.9" cy="310.7" r="10.1" fill="#fff" stroke="#000" stroke-width="2.4"/>
<circle cx="2859.6" cy="318.8" r="10.1" fill="#fff" stroke="#000" stroke-width="2.4"/>
<circle cx="2903.2" cy="324.2" r="10.1" fill="#fff" stroke="#000" stroke-width="2.4"/>
<circle cx="2946.9" cy="330.9" r="10.1" fill="#fff" stroke="#000" stroke-width="2.4"/>
<circle cx="2990.6" cy="334.4" r="10.1" fill="#fff" stroke="#000" stroke-width="2.4"/>
<circle cx="3034.2" cy="337.5" r="10.1" fill="#fff" stroke="#000" stroke-width="2.4"/>
<circle cx="3077.9" cy="344.3" r="10.1" fill="#fff" stroke="#000" stroke-width="2.4"/>
<circle cx="3121.5" cy="350.5" r="10.1" fill="#fff" stroke="#000" stroke-width="2.4"/>
<circle cx="3165.2" cy="360.7" r="10.1" fill="#fff" stroke="#000" stroke-width="2.4"/>
<circle cx="3208.9" cy="366.1" r="10.1" fill="#fff" stroke="#000" stroke-width="2.4"/>
<circle cx="3252.5" cy="374.2" r="10.1" fill="#fff" stroke="#000" stroke-width="2.4"/>
<circle cx="3296.2" cy="381.6" r="10.1" fill="#fff" stroke="#000" stroke-width="2.4"/>
<circle cx="3339.9" cy="387.8" r="10.1" fill="#fff" stroke="#000" stroke-width="2.4"/>
<circle cx="3383.5" cy="384.1" r="10.1" fill="#fff" stroke="#000" stroke-width="2.4"/>
<path d="M2609.7,1098.4 L2609.7,1752.5 L3045.7,1752.5" stroke="#000" stroke-width="4.9" fill="none" stroke-linejoin="miter"/>
<path d="M2609.7,1752.5 L2628.7,1752.5" stroke="#000" stroke-width="4.6"/>
<path d="M2609.7,1456.6 L2628.7,1456.6" stroke="#000" stroke-width="4.6"/>
<path d="M2609.7,1160.7 L2628.7,1160.7" stroke="#000" stroke-width="4.6"/>
<path d="M2609.7,1604.5 L2620,1604.5" stroke="#000" stroke-width="3.8"/>
<path d="M2609.7,1308.7 L2620,1308.7" stroke="#000" stroke-width="3.8"/>
<text font-family="Liberation Sans, sans-serif" font-size="42.5" fill="#000" transform="translate(2603.5,1175.5) scale(1,1.041)" text-anchor="end">1.0</text>
<text font-family="Liberation Sans, sans-serif" font-size="42.5" fill="#000" transform="translate(2603.5,1471.4) scale(1,1.041)" text-anchor="end">0.5</text>
<text font-family="Liberation Sans, sans-serif" font-size="42.5" fill="#000" transform="translate(2603.5,1767.3) scale(1,1.041)" text-anchor="end">0.0</text>
<text font-family="Liberation Sans, sans-serif" font-size="49.2" fill="#000" transform="translate(2521.1,1421.8) rotate(-90) scale(1,1.041)" text-anchor="middle">Peak amplitude ratio (10th/6th)</text>
<path d="M2733.2,1752.5 L2733.2,1771.8" stroke="#000" stroke-width="5"/>
<path d="M2919.8,1752.5 L2919.8,1771.8" stroke="#000" stroke-width="5"/>
<defs><pattern id="hatch" patternUnits="userSpaceOnUse" width="11" height="11" patternTransform="translate(2860,1175)"><path d="M-2,2 L2,-2 M0,11 L11,0 M9,13 L13,9" stroke="#000" stroke-width="1.9"/></pattern><clipPath id="bar2clip"><rect x="2860" y="1173.4" width="119.9" height="579"/></clipPath></defs>
<path d="M2733.5,1159.8 L2733.5,1176 M2702,1159.8 L2764.5,1159.8" stroke="#000" stroke-width="2.2"/>
<path d="M2919.4,1158.1 L2919.4,1173 M2888.7,1158.1 L2950.1,1158.1" stroke="#000" stroke-width="2.2"/>
<path d="M2673.8,1752.5 L2673.8,1176.8 L2793.8,1176.8 L2793.8,1752.5" stroke="#000" stroke-width="4.4" fill="none" stroke-linejoin="miter"/>
<rect x="2860" y="1173.4" width="119.9" height="579" fill="url(#hatch)"/>
<path d="M2860,1752.5 L2860,1173.4 L2979.9,1173.4 L2979.9,1752.5" stroke="#000" stroke-width="4.3" fill="none" stroke-linejoin="miter"/>
<path d="M2733.5,1134 L2733.5,1105.8 L2919.4,1105.8 L2919.4,1131.7" stroke="#000" stroke-width="4.5" fill="none" stroke-linejoin="miter"/>
<text font-family="Liberation Sans, sans-serif" font-size="42.9" fill="#000" transform="translate(2804.1,1084) scale(1,1.041)">ns</text>
<text font-family="Liberation Sans, sans-serif" font-size="43" fill="#000" transform="translate(2748.6,1809.3) rotate(-45) scale(1,1.041)" text-anchor="end">5-HT alone</text>
<text font-family="Liberation Sans, sans-serif" font-size="43" fill="#000" transform="translate(2933.7,1808.2) rotate(-45) scale(1,1.041)" text-anchor="end">Co-appl</text>
</svg></body></html>
